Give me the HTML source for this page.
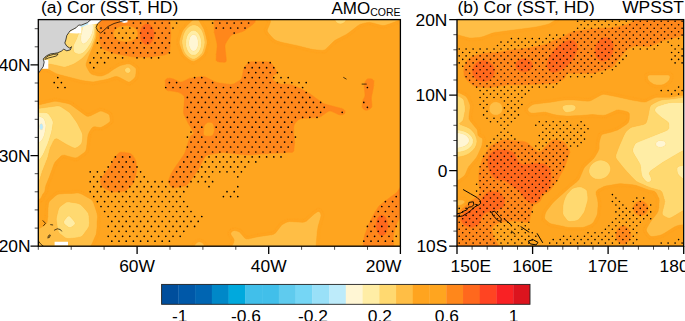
<!DOCTYPE html>
<html><head><meta charset="utf-8"><title>Cor (SST, HD)</title>
<style>
html,body{margin:0;padding:0;background:#fff;}
body{width:685px;height:321px;overflow:hidden;}
svg{display:block;font-family:"Liberation Sans",Arial,Helvetica,sans-serif;fill:#000;}
</style></head><body>
<svg width="685" height="321" viewBox="0 0 685 321">
<defs>
<clipPath id="ca"><rect x="38.3" y="19.6" width="362.1" height="226.6"/></clipPath>
<clipPath id="cb"><rect x="457.0" y="19.6" width="226.7" height="226.5"/></clipPath>
</defs>
<rect width="685" height="321" fill="#fff"/>
<g clip-path="url(#ca)">
<rect x="38" y="19" width="363" height="228" fill="#ffa51f"/>
<path fill="#bdebfa" stroke="#bdebfa" stroke-width=".4" d="M41.5 123.6L42.6 124.5L43.1 126.5L43.1 127.5L42.5 129.2L41.5 129.9L40.5 129.7L39.7 128.5L39.3 126.5L39.5 125.5L39.9 124.5L40.5 123.9Z"/>
<path fill="#fff6d4" stroke="#fff6d4" stroke-width=".4" d="M90.5 22.3L92.4 23.5L92.9 24.5L93.1 25.5L92.9 30.5L92.5 32.6L90.5 37.0L89.5 38.6L87.3 41.5L85.5 43.1L84.5 43.6L83.5 43.9L82.5 43.6L81.5 42.5L81.1 41.5L80.6 38.5L80.8 36.5L82.9 26.5L83.9 24.5L84.9 23.5L86.5 22.4L87.5 22.0L88.5 21.9ZM193.5 34.5L194.5 34.6L195.5 35.1L196.8 36.5L197.7 38.5L198.4 42.5L198.2 45.5L197.6 47.5L196.5 49.6L195.5 50.5L194.5 51.0L193.5 51.2L192.5 51.0L191.5 50.4L190.6 49.5L189.5 47.4L189.0 45.5L188.7 42.5L189.4 38.5L190.4 36.5L191.5 35.2L192.5 34.7ZM36.5 115.9L38.5 116.1L40.5 116.7L42.4 117.5L43.5 118.3L44.4 119.5L44.8 120.5L45.7 123.5L46.0 125.5L45.7 128.5L44.5 134.5L43.8 136.5L42.9 138.5L41.6 140.5L40.5 141.8L39.5 142.3L38.5 142.6L36.5 142.7ZM41.5 123.6L40.5 123.9L39.9 124.5L39.5 125.5L39.3 126.5L39.7 128.5L40.5 129.7L41.5 129.9L42.5 129.2L43.1 127.5L43.1 126.5L42.6 124.5Z"/>
<path fill="#ffeda5" stroke="#ffeda5" stroke-width=".4" d="M86.8 17.5L87.4 18.5L88.5 19.2L91.5 20.2L93.5 21.2L94.5 22.6L94.9 24.5L94.9 26.5L94.4 32.5L93.6 36.5L92.5 39.6L90.5 43.8L87.5 48.3L84.8 51.5L83.5 52.6L82.5 53.2L80.5 53.9L78.5 54.1L76.5 53.7L75.5 53.3L74.5 52.6L73.8 51.5L73.2 48.5L73.2 46.5L73.8 44.5L76.7 38.5L78.6 33.5L79.5 28.5L81.1 17.5ZM90.5 22.3L88.5 21.9L87.5 22.0L86.5 22.4L84.9 23.5L83.9 24.5L82.9 26.5L80.8 36.5L80.6 38.5L81.1 41.5L81.5 42.5L82.5 43.6L83.5 43.9L84.5 43.6L85.5 43.1L87.3 41.5L89.5 38.6L90.5 37.0L92.5 32.6L92.9 30.5L93.1 25.5L92.9 24.5L92.4 23.5ZM193.5 30.3L195.5 30.8L196.5 31.4L197.8 32.5L199.3 34.5L200.3 36.5L200.9 38.5L201.5 42.5L201.4 44.5L200.9 47.5L200.2 49.5L199.2 51.5L197.6 53.5L196.5 54.4L195.5 54.9L193.5 55.3L191.5 54.9L190.5 54.4L189.4 53.5L187.9 51.5L186.9 49.5L186.2 47.5L185.7 44.5L185.6 42.5L186.2 38.5L186.8 36.5L187.8 34.5L189.3 32.5L190.5 31.4L191.5 30.8ZM193.5 34.5L192.5 34.7L191.5 35.2L190.4 36.5L189.4 38.5L188.7 42.5L189.0 45.5L189.5 47.4L190.6 49.5L191.5 50.4L192.5 51.0L193.5 51.2L194.5 51.0L195.5 50.5L196.5 49.6L197.6 47.5L198.2 45.5L198.4 42.5L197.7 38.5L196.8 36.5L195.5 35.1L194.5 34.6ZM46.5 112.7L48.1 113.5L49.1 114.5L51.7 118.5L52.7 120.5L53.0 121.5L53.0 123.5L51.7 131.5L48.4 142.5L43.7 153.5L41.9 156.5L39.5 159.7L38.5 160.6L37.5 161.1L36.5 161.4L36.5 142.7L38.5 142.6L39.5 142.3L40.5 141.8L41.6 140.5L42.9 138.5L43.8 136.5L44.5 134.5L45.7 128.5L46.0 125.5L45.7 123.5L45.1 121.5L44.4 119.5L43.7 118.5L42.5 117.5L40.5 116.7L38.5 116.1L36.5 115.9L36.5 112.5L44.5 112.5ZM68.5 216.0L69.5 216.1L70.5 216.8L73.7 220.5L75.0 222.5L75.2 223.5L74.8 224.5L72.5 226.6L70.5 227.5L69.5 227.5L68.5 227.2L67.5 226.6L64.5 224.2L64.0 223.5L63.6 222.5L63.7 221.5L64.2 220.5L65.5 218.7L67.4 216.5Z"/>
<path fill="#ffd970" stroke="#ffd970" stroke-width=".4" d="M36.5 17.5L81.1 17.5L79.5 28.5L78.6 33.5L76.7 38.5L73.8 44.5L73.2 46.5L73.1 47.5L73.5 50.5L73.8 51.5L74.4 52.5L75.9 53.5L78.5 54.1L80.5 53.9L82.5 53.2L84.5 51.8L86.5 49.5L88.5 46.9L90.5 43.8L92.5 39.6L93.9 35.5L94.5 32.0L94.9 26.5L94.9 24.5L94.5 22.6L93.5 21.2L91.5 20.2L88.5 19.2L87.4 18.5L86.8 17.5L95.5 17.5L96.1 25.5L95.4 35.5L94.5 39.2L91.5 46.5L90.5 48.5L88.5 51.5L86.5 53.9L82.5 58.2L80.9 59.5L74.5 63.7L71.5 65.0L66.5 66.8L65.5 67.0L63.5 67.0L54.5 64.9L49.5 64.1L36.5 64.0ZM334.5 18.5L334.6 17.5L346.2 17.5L346.4 18.5L345.9 20.5L345.4 21.5L344.5 22.4L342.5 23.5L340.5 24.0L338.5 23.7L336.5 22.5L335.1 20.5ZM193.5 24.8L195.5 25.0L197.5 25.7L199.5 27.2L201.5 29.6L202.5 31.5L203.6 34.5L204.6 38.5L205.0 42.5L204.5 46.2L203.6 49.5L202.5 52.5L201.9 53.5L200.1 55.5L197.5 57.6L195.5 58.7L193.5 59.3L191.5 58.8L189.5 57.7L186.7 55.5L185.5 54.1L184.5 52.4L183.3 49.5L182.5 46.5L181.9 42.5L182.0 40.5L182.8 36.5L183.8 33.5L185.3 30.5L187.5 27.8L189.5 26.2L191.5 25.2ZM193.5 30.3L191.5 30.8L190.5 31.4L189.3 32.5L187.8 34.5L186.8 36.5L186.2 38.5L185.6 42.5L185.7 44.5L186.2 47.5L186.9 49.5L187.9 51.5L189.4 53.5L190.5 54.4L191.5 54.9L193.5 55.3L195.5 54.9L196.5 54.4L197.6 53.5L199.2 51.5L200.2 49.5L200.9 47.5L201.4 44.5L201.5 42.5L200.9 38.5L200.3 36.5L199.3 34.5L197.8 32.5L196.5 31.4L195.5 30.8ZM127.5 67.2L128.5 67.3L129.5 67.9L130.1 68.5L130.7 69.5L130.8 70.5L130.5 71.5L129.5 72.6L128.5 73.2L127.5 73.3L126.5 73.0L125.5 72.1L125.0 71.5L124.7 70.5L124.8 69.5L125.4 68.5L126.5 67.6ZM59.5 106.1L62.2 107.5L67.5 111.0L69.5 112.5L71.5 114.9L76.9 122.5L81.5 131.5L82.6 134.5L82.7 136.5L82.5 139.5L81.9 142.5L81.5 143.5L80.8 144.5L78.5 146.5L76.5 147.8L75.5 148.1L74.5 148.1L72.5 147.5L66.6 144.5L57.5 139.1L56.5 138.8L55.5 138.9L54.5 139.6L53.3 141.5L50.4 147.5L49.5 150.4L47.8 157.5L42.3 171.5L39.4 180.5L38.9 181.5L38.2 182.5L37.5 183.0L36.5 183.3L36.5 161.4L37.5 161.1L38.7 160.5L39.7 159.5L41.9 156.5L43.7 153.5L46.5 147.1L48.7 141.5L51.5 132.5L52.8 125.5L53.1 122.5L52.7 120.5L52.3 119.5L49.5 115.1L48.1 113.5L46.5 112.7L45.5 112.6L36.5 112.5L36.5 108.5L39.5 108.3L56.5 105.9L58.5 105.9ZM66.5 202.1L67.5 201.9L69.5 201.9L77.5 203.2L79.5 203.9L80.5 204.5L82.7 206.5L87.5 211.9L88.5 213.5L88.9 215.5L89.5 222.5L89.4 224.5L89.0 226.5L87.9 228.5L83.5 234.6L82.5 235.7L81.5 236.5L80.5 237.0L78.5 237.4L71.5 238.4L67.5 238.6L65.5 237.9L61.5 235.0L59.5 233.4L58.2 231.5L57.5 228.5L56.2 219.5L56.4 217.5L58.1 210.5L58.8 208.5L59.3 207.5L60.2 206.5L64.5 203.2ZM68.5 216.0L67.4 216.5L65.5 218.7L64.2 220.5L63.7 221.5L63.6 222.5L64.0 223.5L64.5 224.2L67.5 226.6L68.5 227.2L69.5 227.5L70.5 227.5L72.5 226.6L74.8 224.5L75.2 223.5L75.0 222.5L73.7 220.5L70.5 216.8L69.5 216.1Z"/>
<path fill="#ffbe45" stroke="#ffbe45" stroke-width=".4" d="M135.7 75.5L135.0 77.5L134.2 78.5L130.5 81.6L129.5 82.0L128.5 82.1L127.5 81.8L120.5 78.0L118.5 77.1L116.5 76.6L114.5 76.8L109.5 78.6L106.2 79.5L95.5 81.6L92.5 81.9L88.5 81.5L81.8 80.5L58.7 74.5L55.6 73.5L49.5 70.1L47.5 69.4L45.5 69.1L36.5 69.1L36.5 64.0L49.5 64.1L54.5 64.9L62.5 66.9L64.5 67.1L65.5 67.0L69.5 65.8L74.5 63.7L80.9 59.5L82.5 58.2L86.5 53.9L89.5 50.1L91.5 46.5L94.5 39.2L95.4 35.5L96.1 25.5L95.5 17.5L96.9 17.5L97.1 25.5L96.6 35.5L96.3 37.5L95.8 39.5L92.7 47.5L89.9 53.5L87.2 60.5L86.2 63.5L86.1 64.5L86.2 65.5L86.9 67.5L89.8 72.5L91.5 74.0L93.5 74.8L98.5 76.0L100.5 76.1L101.5 76.0L104.5 75.0L108.5 73.1L113.3 69.5L119.5 65.9L120.5 65.4L124.0 64.5L127.5 63.8L128.5 63.8L130.5 64.3L134.5 66.9L135.3 67.5L136.0 68.5L136.2 69.5ZM127.5 67.2L126.5 67.6L125.4 68.5L124.8 69.5L124.7 70.5L125.0 71.5L125.5 72.1L126.5 73.0L127.5 73.3L128.5 73.2L129.5 72.6L130.5 71.5L130.8 70.5L130.7 69.5L130.1 68.5L129.5 67.9L128.5 67.3ZM196.5 18.2L197.5 18.6L198.5 19.8L203.7 28.5L204.7 31.5L205.9 35.5L207.0 40.5L207.1 42.5L206.9 44.5L205.3 50.5L204.6 52.5L203.5 54.5L201.5 56.5L198.5 59.0L195.5 60.8L193.5 61.4L192.5 61.3L191.5 61.0L188.5 59.2L185.2 56.5L183.5 54.6L182.4 52.5L180.2 46.5L179.3 43.5L179.2 41.5L180.2 37.5L181.5 33.5L182.3 31.5L183.5 29.5L185.9 26.5L192.5 20.1L195.0 18.5ZM193.5 24.8L191.5 25.2L189.5 26.2L187.5 27.8L185.3 30.5L183.8 33.5L182.8 36.5L182.0 40.5L181.9 42.5L182.5 46.5L183.3 49.5L184.5 52.4L185.5 54.1L186.7 55.5L189.5 57.7L191.5 58.8L193.5 59.3L195.5 58.7L197.5 57.6L200.1 55.5L201.9 53.5L202.5 52.5L203.6 49.5L204.5 46.2L205.0 42.5L204.6 38.5L203.6 34.5L202.5 31.5L201.5 29.6L199.5 27.2L197.5 25.7L195.5 25.0ZM267.2 30.5L267.5 29.2L270.0 23.5L270.5 21.5L270.4 20.5L270.0 19.5L268.0 17.5L334.6 17.5L334.5 18.5L334.7 19.5L335.5 21.2L336.5 22.5L338.5 23.7L340.5 24.0L341.5 23.9L343.5 23.1L344.5 22.4L345.4 21.5L346.2 19.5L346.4 18.5L346.2 17.5L401.8 17.5L401.3 18.5L400.5 19.3L398.5 20.6L390.8 23.5L384.5 25.6L381.8 25.5L372.5 22.9L369.5 22.4L368.5 22.4L365.5 22.9L360.5 24.3L357.5 26.0L349.2 32.5L346.3 34.5L337.5 39.0L334.5 40.8L325.5 49.4L324.5 50.0L323.5 50.3L322.5 50.4L317.5 50.0L312.5 49.5L298.5 45.9L282.3 42.5L278.6 41.5L275.5 40.3L273.5 38.8L268.5 33.3L267.4 31.5ZM108.5 114.0L109.6 115.5L110.2 119.5L110.2 120.5L110.0 121.5L109.2 122.5L106.3 124.5L101.5 127.3L100.5 127.5L99.5 127.6L95.5 126.8L93.5 126.9L92.5 127.5L90.8 129.5L89.1 132.5L88.3 134.5L87.7 137.5L86.5 148.5L85.9 150.5L85.4 151.5L84.4 152.5L77.5 157.4L76.5 157.8L75.5 158.0L73.5 157.7L64.5 155.2L62.5 155.4L61.5 155.8L60.5 156.6L55.7 161.5L54.9 162.5L53.9 164.5L49.5 176.5L45.9 185.5L45.4 187.5L45.0 190.5L44.5 192.1L42.6 194.5L41.3 197.5L40.5 198.7L39.5 199.3L38.8 199.5L36.5 199.6L36.5 183.3L37.5 183.0L38.2 182.5L38.9 181.5L39.4 180.5L42.3 171.5L47.8 157.5L49.5 150.4L50.4 147.5L53.3 141.5L54.5 139.6L55.5 138.9L56.5 138.8L57.5 139.1L65.5 143.9L69.5 146.0L73.5 147.9L74.5 148.1L75.5 148.1L76.5 147.8L78.5 146.5L80.5 144.9L81.5 143.5L81.9 142.5L82.4 140.5L82.7 135.5L82.4 133.5L81.0 130.5L77.5 123.5L74.8 119.5L71.2 114.5L69.5 112.5L63.5 108.3L60.5 106.5L59.5 106.1L57.5 105.8L39.5 108.3L36.5 108.5L36.5 104.9L40.5 104.4L53.5 101.3L56.5 101.2L67.5 103.4L70.5 104.4L73.5 106.5L84.5 114.7L86.5 115.9L87.5 116.2L88.5 116.3L90.5 115.7L99.1 111.5L100.5 111.1L101.5 111.1L103.1 111.5L107.5 113.4ZM92.4 200.5L93.5 202.6L96.5 211.5L97.5 215.4L97.6 217.5L97.1 221.5L97.0 227.5L96.4 233.5L95.5 236.0L91.5 244.9L90.2 246.5L88.4 247.5L85.5 248.5L36.5 248.5L36.5 228.9L39.5 228.3L41.5 227.2L45.3 224.5L46.3 223.5L46.9 222.5L47.2 221.5L47.8 216.5L47.9 209.5L48.5 203.5L48.8 202.5L49.5 201.3L54.6 196.5L57.4 194.5L59.5 194.0L65.5 193.4L71.5 193.4L76.5 193.0L78.5 193.1L80.3 193.5L82.5 194.5L91.3 199.5ZM66.5 202.1L64.5 203.2L60.2 206.5L59.3 207.5L58.8 208.5L58.1 210.5L56.4 217.5L56.2 219.5L57.5 228.5L58.2 231.5L59.5 233.4L61.5 235.0L65.5 237.9L67.5 238.6L71.5 238.4L78.5 237.4L80.5 237.0L81.5 236.5L82.5 235.7L83.5 234.6L87.9 228.5L89.0 226.5L89.4 224.5L89.5 222.5L88.9 215.5L88.5 213.5L87.5 211.9L82.7 206.5L80.5 204.5L79.5 203.9L77.5 203.2L69.5 201.9L67.5 201.9ZM320.7 213.5L321.0 215.5L321.0 216.5L318.1 226.5L317.3 231.5L315.9 248.5L230.8 248.5L233.7 242.5L234.1 240.5L234.0 239.5L233.5 238.5L231.4 235.5L230.9 234.5L230.7 233.5L231.0 232.5L231.5 231.9L232.5 231.1L233.5 230.7L234.5 230.5L235.5 230.6L238.4 231.5L239.5 232.1L240.5 233.0L244.5 237.8L245.5 238.5L246.5 238.8L248.5 238.8L259.5 236.4L271.5 234.8L273.5 234.2L275.5 232.9L281.5 225.3L283.5 223.8L286.5 222.3L288.5 221.6L289.5 221.5L302.5 222.3L304.5 222.0L306.5 220.9L313.6 214.5L317.5 211.7L318.5 211.4L319.5 211.8ZM193.8 248.5L194.5 245.5L195.5 243.7L197.5 242.2L198.5 241.8L199.5 241.7L200.5 241.9L201.9 242.5L203.5 243.8L204.3 245.5L204.9 248.5Z"/>
<path fill="#ffa41f" stroke="#ffa41f" stroke-width=".4" d="M139.2 69.5L138.8 74.5L138.2 77.5L137.8 78.5L136.5 80.3L133.5 83.0L131.5 84.4L130.5 84.9L129.5 85.2L127.5 85.0L119.2 80.5L116.5 79.5L115.5 79.6L107.5 82.2L94.5 84.7L92.5 84.8L84.5 83.9L79.5 82.9L67.0 79.5L56.5 76.9L54.5 76.2L47.5 72.4L44.5 72.0L36.5 72.0L36.5 69.1L46.5 69.2L49.5 70.1L55.5 73.4L58.7 74.5L81.8 80.5L91.5 81.8L93.5 81.9L95.5 81.6L106.2 79.5L109.5 78.6L113.5 77.1L115.5 76.6L116.5 76.6L118.5 77.1L122.5 79.0L127.0 81.5L128.5 82.1L129.5 82.0L130.5 81.6L133.1 79.5L134.5 78.2L135.5 76.4L136.0 73.5L136.2 69.5L136.0 68.5L135.3 67.5L132.5 65.5L130.5 64.3L129.5 64.0L128.5 63.8L126.5 64.0L120.3 65.5L118.2 66.5L113.3 69.5L108.5 73.1L104.5 75.0L101.5 76.0L99.5 76.1L97.5 75.8L93.5 74.8L91.5 74.0L89.8 72.5L88.0 69.5L86.5 66.5L86.2 65.5L86.2 63.5L87.2 60.5L89.1 55.5L92.7 47.5L95.8 39.5L96.3 37.5L96.6 35.5L97.1 25.5L96.9 17.5L98.1 17.5L98.1 25.5L97.7 35.5L97.4 38.5L96.9 41.5L95.1 47.5L92.5 53.9L89.5 62.4L89.1 64.5L89.5 66.3L92.0 70.5L92.5 71.1L93.5 71.7L95.9 72.5L99.5 73.1L101.5 72.9L103.0 72.5L107.3 70.5L110.5 67.9L116.5 64.2L118.5 63.1L122.5 61.9L126.5 61.0L128.5 60.9L129.5 61.0L131.5 61.7L136.5 64.7L138.4 66.5L138.9 67.5ZM200.4 17.5L205.1 25.5L206.1 27.5L206.8 29.5L209.3 39.5L209.6 42.5L209.4 44.5L206.8 53.5L205.7 55.5L204.9 56.5L200.5 60.2L196.5 63.0L194.5 64.0L192.5 64.1L190.5 63.3L185.5 59.8L182.8 57.5L181.1 55.5L180.2 53.5L176.8 44.5L176.5 42.5L176.6 40.5L179.1 32.5L179.9 30.5L181.1 28.5L183.6 25.5L190.1 18.5L191.2 17.5ZM196.5 18.2L195.0 18.5L192.5 20.1L185.9 26.5L183.5 29.5L182.3 31.5L181.5 33.5L180.2 37.5L179.2 41.5L179.3 43.5L180.2 46.5L182.4 52.5L183.5 54.6L185.2 56.5L188.5 59.2L191.5 61.0L192.5 61.3L193.5 61.4L195.5 60.8L198.5 59.0L201.5 56.5L203.5 54.5L204.6 52.5L205.3 50.5L206.9 44.5L207.1 42.5L207.0 40.5L205.9 35.5L204.7 31.5L203.7 28.5L198.5 19.8L197.5 18.6ZM262.6 17.5L268.0 17.5L270.0 19.5L270.4 20.5L270.5 21.5L270.3 22.5L267.4 29.5L267.2 30.5L267.4 31.5L268.7 33.5L273.2 38.5L274.3 39.5L275.5 40.3L278.6 41.5L282.3 42.5L298.5 45.9L311.5 49.3L316.5 49.9L322.5 50.4L323.5 50.3L324.5 50.0L325.5 49.4L333.5 41.6L335.5 40.1L346.3 34.5L349.2 32.5L357.5 26.0L359.5 24.7L361.5 23.9L366.5 22.7L369.5 22.4L372.5 22.9L381.8 25.5L384.5 25.6L390.8 23.5L398.5 20.6L400.5 19.3L401.3 18.5L401.8 17.5L402.5 17.5L402.5 21.4L400.5 22.8L397.5 24.1L386.5 28.1L383.5 28.6L380.5 28.2L370.9 25.5L369.5 25.3L367.0 25.5L362.5 26.6L360.5 27.4L358.9 28.5L350.5 35.1L347.5 37.1L338.8 41.5L335.6 43.5L326.5 52.2L324.5 53.2L322.5 53.3L316.5 52.9L310.5 52.0L296.9 48.5L280.5 45.0L274.5 43.1L272.5 41.8L271.1 40.5L265.8 34.5L264.6 32.5L264.2 31.5L264.1 30.5L264.3 29.5L265.0 27.5L266.5 24.4L267.2 22.5L267.3 21.5L266.7 20.5L264.5 19.1ZM110.5 111.8L111.9 113.5L112.8 116.5L113.2 119.5L113.2 121.5L112.9 122.5L112.3 123.5L111.4 124.5L109.5 125.9L104.5 129.0L102.5 130.1L101.5 130.3L99.5 130.4L95.5 129.8L94.5 130.0L93.5 130.7L91.5 134.1L90.8 136.5L89.2 149.5L88.7 151.5L88.2 152.5L87.5 153.5L84.5 156.0L78.5 160.2L76.5 160.9L75.5 161.0L73.5 160.7L66.1 158.5L64.5 158.2L63.5 158.3L62.5 158.7L59.5 161.5L57.5 163.8L56.5 165.8L52.9 175.5L48.5 186.8L48.2 188.5L47.9 191.5L47.3 193.5L45.5 195.5L44.8 196.5L43.6 199.5L42.5 201.1L41.5 201.8L40.5 202.2L36.5 202.4L36.5 199.6L38.8 199.5L39.5 199.3L40.5 198.7L41.3 197.5L42.6 194.5L44.2 192.5L44.8 191.5L45.4 187.5L45.9 185.5L49.5 176.5L53.9 164.5L54.9 162.5L56.5 160.5L60.5 156.6L61.5 155.8L62.5 155.4L64.5 155.2L73.5 157.7L75.5 158.0L76.5 157.8L77.5 157.4L84.4 152.5L85.4 151.5L85.9 150.5L86.5 148.3L88.0 135.5L89.1 132.5L91.5 128.5L92.5 127.5L93.5 126.9L94.5 126.8L99.5 127.6L100.5 127.5L101.5 127.3L106.3 124.5L109.2 122.5L110.0 121.5L110.2 120.5L109.8 116.5L109.6 115.5L109.0 114.5L107.5 113.4L102.5 111.3L100.5 111.1L99.5 111.3L90.5 115.7L88.5 116.3L87.5 116.2L86.5 115.9L84.5 114.7L70.5 104.4L68.0 103.5L56.5 101.2L54.5 101.2L40.5 104.4L36.5 104.9L36.5 102.0L40.5 101.5L52.5 98.6L54.5 98.3L56.5 98.3L68.5 100.7L71.5 101.7L73.5 102.9L86.3 112.5L87.5 113.1L88.5 113.2L90.5 112.6L97.5 109.0L100.5 108.1L102.5 108.3L104.5 108.9L108.5 110.6ZM55.5 192.2L56.5 191.7L58.5 191.1L63.5 190.7L72.3 190.5L76.5 190.0L79.5 190.3L81.5 190.9L83.5 191.8L92.5 196.8L94.5 198.5L95.2 199.5L96.9 203.5L99.8 212.5L100.3 214.5L100.4 217.5L100.1 221.5L99.9 227.5L99.3 233.5L98.8 235.5L93.9 246.5L92.3 248.5L85.5 248.5L89.5 246.9L90.5 246.2L91.1 245.5L92.5 242.8L96.1 234.5L96.5 232.5L97.0 227.5L97.1 221.5L97.6 217.5L97.3 214.5L96.5 211.5L93.5 202.6L92.4 200.5L91.3 199.5L82.5 194.5L80.3 193.5L78.5 193.1L76.5 193.0L71.5 193.4L64.5 193.5L58.5 194.1L57.4 194.5L55.5 195.8L50.2 200.5L49.3 201.5L48.8 202.5L48.5 203.5L48.0 208.5L47.8 216.5L47.2 221.5L46.9 222.5L46.3 223.5L45.3 224.5L41.5 227.2L39.5 228.3L36.5 228.9L36.5 225.9L38.5 225.6L40.5 224.5L43.5 222.1L44.4 220.5L44.9 215.5L45.1 208.5L46.0 201.5L47.5 199.2L53.5 193.7ZM323.7 213.5L324.0 214.5L324.0 216.5L321.5 224.9L320.5 229.0L319.5 238.7L318.8 248.5L315.9 248.5L317.2 232.5L318.1 226.5L320.7 217.5L321.0 215.5L320.7 213.5L320.1 212.5L319.5 211.8L318.5 211.4L317.5 211.7L314.8 213.5L306.5 220.9L304.5 222.0L302.5 222.3L289.5 221.5L287.5 221.9L286.0 222.5L282.5 224.4L281.5 225.3L275.5 232.9L273.5 234.2L271.5 234.8L259.5 236.4L248.5 238.8L246.5 238.8L245.5 238.5L244.5 237.8L240.5 233.0L239.5 232.1L238.4 231.5L235.5 230.6L234.5 230.5L233.5 230.7L232.5 231.1L231.5 231.9L231.0 232.5L230.7 233.5L230.9 234.5L231.4 235.5L232.9 237.5L234.0 239.5L234.1 240.5L233.7 242.5L230.8 248.5L227.6 248.5L230.5 242.6L231.0 240.5L230.5 239.1L228.0 235.5L227.6 234.5L227.6 232.5L228.0 231.5L229.5 229.8L230.5 228.9L232.5 227.8L233.5 227.6L235.5 227.7L239.5 228.8L241.5 229.9L242.1 230.5L245.5 234.7L246.4 235.5L247.5 235.8L249.5 235.6L257.5 233.8L267.2 232.5L272.5 231.5L273.5 230.8L274.5 229.7L279.3 223.5L280.5 222.4L282.5 221.0L284.5 220.0L287.5 218.9L290.5 218.6L294.5 219.0L298.5 219.0L302.5 219.4L303.5 219.2L304.9 218.5L313.5 210.9L316.5 208.8L317.5 208.3L318.5 208.0L319.5 208.1L320.5 208.5L321.5 209.3L322.9 211.5ZM190.8 248.5L192.1 243.5L193.5 241.5L195.5 240.0L197.5 239.0L199.5 238.7L201.5 239.1L203.5 240.1L205.5 241.6L206.2 242.5L207.1 244.5L207.8 248.5L204.9 248.5L204.3 245.5L203.5 243.8L201.9 242.5L200.5 241.9L199.5 241.7L198.5 241.8L197.5 242.2L195.5 243.7L194.5 245.5L193.8 248.5Z"/>
<path fill="#ffa51f" stroke="#ffa51f" stroke-width=".4" d="M36.5 72.0L44.5 72.0L47.5 72.4L54.5 76.2L57.5 77.2L67.0 79.5L80.5 83.2L84.5 83.9L92.5 84.8L94.5 84.7L107.5 82.2L115.5 79.6L116.5 79.5L119.2 80.5L127.5 85.0L129.5 85.2L130.5 84.9L132.5 83.8L135.5 81.2L137.2 79.5L138.2 77.5L138.9 73.5L139.2 68.5L138.9 67.5L138.4 66.5L137.4 65.5L133.5 62.8L130.5 61.3L128.5 60.9L126.5 61.0L121.5 62.1L118.5 63.1L116.5 64.2L110.5 67.9L107.3 70.5L103.0 72.5L100.5 73.1L99.5 73.1L95.9 72.5L93.5 71.7L92.5 71.1L92.0 70.5L90.5 68.2L89.5 66.3L89.2 65.5L89.1 64.5L89.5 62.5L92.5 53.9L95.1 47.5L96.9 41.5L97.4 38.5L97.7 35.5L98.1 25.5L98.1 17.5L99.5 17.5L99.2 38.5L99.4 40.5L101.1 46.5L101.6 47.5L102.4 48.5L104.0 49.5L114.6 53.5L117.5 54.3L134.5 57.1L148.5 57.2L151.5 57.0L164.5 54.9L166.5 54.2L167.7 53.5L168.7 52.5L169.3 51.5L169.6 50.5L170.1 46.5L170.2 41.5L170.7 37.5L170.7 33.5L170.2 28.5L170.1 22.5L169.6 17.5L191.2 17.5L189.1 19.5L183.6 25.5L181.1 28.5L179.9 30.5L176.8 39.5L176.5 42.5L176.8 44.5L180.2 53.5L181.1 55.5L181.8 56.5L184.5 59.0L188.5 62.0L191.5 63.8L192.5 64.1L193.5 64.2L194.5 64.0L196.5 63.0L199.5 61.0L203.5 57.8L205.7 55.5L206.3 54.5L207.1 52.5L209.4 44.5L209.6 42.5L209.3 39.5L206.8 29.5L206.1 27.5L205.1 25.5L200.4 17.5L214.3 17.5L214.3 29.5L214.4 32.5L216.8 42.5L217.2 45.5L216.4 54.5L216.2 59.5L216.5 60.7L217.5 61.5L219.5 62.0L224.5 62.3L225.5 61.9L225.9 61.5L226.2 60.5L226.1 57.5L225.0 46.5L225.2 44.5L226.1 42.5L229.2 37.5L230.5 36.0L232.5 34.7L241.5 31.9L244.5 30.5L253.5 23.8L254.6 22.5L255.4 20.5L255.8 17.5L262.6 17.5L264.5 19.1L266.7 20.5L267.3 21.5L267.2 22.5L264.3 29.5L264.1 30.5L264.2 31.5L265.1 33.5L266.6 35.5L271.5 40.9L272.5 41.8L274.5 43.1L280.5 45.0L296.9 48.5L310.5 52.0L316.5 52.9L322.5 53.3L324.5 53.2L326.5 52.2L335.6 43.5L338.8 41.5L347.5 37.1L350.5 35.1L358.9 28.5L360.5 27.4L362.5 26.6L367.0 25.5L369.5 25.3L370.9 25.5L380.5 28.2L383.5 28.6L386.5 28.1L397.5 24.1L400.5 22.8L402.5 21.4L402.5 185.3L401.5 185.8L400.8 186.5L397.5 191.5L396.5 192.7L384.5 201.5L379.5 205.5L378.5 206.7L375.4 211.5L373.1 215.5L368.5 224.7L364.6 235.5L364.1 237.5L363.4 242.5L363.1 248.5L318.8 248.5L319.5 238.7L320.5 229.0L321.5 224.9L323.7 217.5L324.0 215.5L324.0 214.5L322.9 211.5L321.7 209.5L320.5 208.5L319.5 208.1L318.5 208.0L316.5 208.8L312.5 211.7L308.4 215.5L304.9 218.5L303.5 219.2L302.5 219.4L298.5 219.0L289.5 218.6L287.5 218.9L284.5 220.0L282.5 221.0L280.4 222.5L279.3 223.5L273.8 230.5L272.5 231.5L271.5 231.8L261.5 233.2L257.5 233.8L250.4 235.5L247.5 235.8L246.5 235.6L245.5 234.7L242.5 230.9L240.5 229.3L237.5 228.1L235.5 227.7L233.5 227.6L232.5 227.8L230.5 228.9L229.5 229.8L228.0 231.5L227.6 232.5L227.6 234.5L228.0 235.5L230.5 239.1L231.0 240.5L230.5 242.6L227.6 248.5L207.8 248.5L207.1 244.5L206.2 242.5L205.5 241.6L203.5 240.1L201.5 239.1L199.5 238.7L197.5 239.0L195.5 240.0L193.5 241.5L192.1 243.5L190.8 248.5L92.3 248.5L93.9 246.5L98.0 237.5L99.1 234.5L99.9 227.5L100.1 221.5L100.4 217.5L100.4 215.5L100.1 213.5L96.2 201.5L95.2 199.5L93.5 197.6L92.5 196.8L83.5 191.8L81.5 190.9L78.5 190.1L75.5 190.1L71.5 190.5L64.5 190.6L58.5 191.1L56.5 191.7L55.5 192.2L53.5 193.7L47.2 199.5L46.0 201.5L45.1 208.5L44.9 215.5L44.4 220.5L44.0 221.5L43.2 222.5L40.5 224.5L38.5 225.6L36.5 225.9L36.5 202.4L40.5 202.2L41.5 201.8L42.5 201.1L43.6 199.5L44.8 196.5L45.5 195.5L47.3 193.5L47.9 191.5L48.2 188.5L48.5 186.8L51.8 178.5L56.5 165.8L57.5 163.8L58.5 162.5L61.5 159.5L62.5 158.7L63.5 158.3L64.5 158.2L66.1 158.5L74.5 160.9L76.5 160.9L78.5 160.2L86.5 154.5L88.2 152.5L89.0 150.5L90.6 137.5L91.4 134.5L92.5 132.2L93.5 130.7L94.5 130.0L95.5 129.8L99.5 130.4L101.5 130.3L102.5 130.1L107.5 127.2L111.5 124.4L112.3 123.5L112.9 122.5L113.2 121.5L113.0 117.5L112.3 114.5L111.9 113.5L111.2 112.5L109.5 111.1L104.5 108.9L101.5 108.1L99.5 108.3L97.5 109.0L89.5 112.9L88.5 113.2L87.5 113.1L86.3 112.5L73.5 102.9L71.5 101.7L68.5 100.7L56.5 98.3L54.5 98.3L52.5 98.6L40.5 101.5L36.5 102.0ZM344.6 110.5L343.5 109.3L341.7 108.5L326.5 104.5L323.5 103.5L321.5 102.2L310.5 94.2L302.3 89.5L297.5 87.2L292.5 85.2L289.5 84.4L286.5 84.1L283.5 84.3L281.5 84.2L279.5 83.6L274.5 81.4L273.3 80.5L272.8 79.5L272.5 78.5L272.6 76.5L273.0 75.5L273.5 75.0L275.5 74.3L276.8 73.5L277.0 72.5L276.8 71.5L273.8 66.5L271.7 63.5L270.5 62.4L269.5 62.0L266.5 61.8L251.5 61.8L249.5 62.1L248.5 62.6L247.5 63.5L245.5 65.8L244.5 67.2L243.9 68.5L243.3 70.5L242.3 76.5L241.5 78.7L240.9 79.5L239.5 80.6L234.5 83.5L232.5 84.3L230.5 84.5L228.5 84.3L217.5 82.7L214.5 81.6L205.5 77.1L203.5 76.6L198.5 77.0L189.5 78.4L187.5 79.2L183.5 81.4L181.5 82.1L179.5 81.9L173.5 79.1L171.5 78.5L169.5 78.3L167.3 78.5L166.5 78.9L165.9 79.5L165.4 80.5L165.3 81.5L165.4 87.5L165.5 88.5L166.1 89.5L167.5 90.4L168.5 90.6L176.5 91.8L179.5 92.6L180.5 93.1L182.5 94.6L183.5 95.5L184.2 96.5L184.5 98.5L183.5 111.5L183.6 113.5L184.4 115.5L188.5 123.8L193.1 131.5L193.5 132.5L193.7 133.5L193.0 134.5L191.5 135.2L190.2 136.5L189.5 138.4L185.7 150.5L185.0 152.5L184.0 154.5L173.5 169.8L171.3 173.5L169.5 177.8L168.5 180.5L168.5 181.9L169.0 183.5L170.5 185.9L171.5 187.1L172.5 187.6L173.5 187.8L175.5 187.6L183.5 186.3L185.5 185.7L186.5 185.2L188.5 183.2L197.5 171.0L204.5 157.5L205.5 156.2L206.5 155.4L207.5 155.0L216.5 153.3L222.5 152.4L224.5 152.5L246.5 155.1L272.5 153.2L284.5 152.7L288.5 152.3L291.5 152.4L292.5 152.2L293.4 151.5L293.8 150.5L294.6 142.5L293.7 133.5L293.7 127.5L294.0 125.5L294.3 124.5L295.5 122.8L297.5 120.5L298.5 119.7L300.5 118.8L303.5 118.4L315.5 117.6L319.5 117.0L321.5 116.1L327.5 111.8L328.5 111.3L329.5 111.0L331.5 111.3L338.5 114.5L340.5 114.9L342.5 114.7L343.5 114.3L344.7 113.5L345.0 112.5L345.0 111.5ZM370.5 78.8L368.5 78.8L367.5 79.0L366.7 79.5L365.3 81.5L364.2 84.5L364.1 86.5L364.9 93.5L365.0 95.5L364.8 96.5L363.3 99.5L362.6 101.5L362.2 104.5L362.1 106.5L362.4 107.5L363.0 108.5L364.5 109.7L365.5 110.1L366.5 110.2L367.5 110.0L369.5 109.1L370.5 108.5L371.4 107.5L371.8 106.5L371.8 104.5L371.4 99.5L371.4 97.5L373.2 88.5L373.6 85.5L373.8 81.5L373.6 80.5L372.7 79.5L371.5 79.0ZM130.5 153.6L128.5 153.0L124.5 152.4L121.5 152.2L120.5 152.3L119.5 152.6L118.5 153.3L115.3 156.5L113.9 158.5L110.7 165.5L107.9 169.5L101.7 177.5L100.6 179.5L100.4 181.5L101.1 184.5L102.0 186.5L103.0 187.5L109.5 190.9L112.5 192.0L114.5 192.0L121.5 191.6L124.5 191.1L126.5 190.1L128.3 188.5L132.2 184.5L133.5 182.4L135.7 175.5L136.6 171.5L136.7 168.5L136.1 162.5L135.7 160.5L134.6 158.5L132.6 155.5L131.5 154.3ZM113.3 32.5L113.6 31.5L114.5 30.1L116.0 28.5L117.5 27.5L119.7 26.5L122.5 25.7L124.5 25.5L127.5 25.5L131.7 26.5L133.5 27.3L135.5 28.6L136.5 29.5L137.5 31.1L137.9 32.5L137.9 34.5L137.5 36.5L137.0 37.5L136.1 38.5L134.5 39.6L132.5 40.7L129.5 41.7L127.5 42.0L124.5 42.0L122.5 41.8L119.5 40.9L117.5 40.0L115.5 38.7L114.4 37.5L113.4 35.5L113.1 33.5ZM208.5 122.2L210.5 122.3L211.5 122.5L212.5 123.1L213.5 124.5L214.4 128.5L214.5 130.5L214.3 131.5L213.2 134.5L212.5 135.4L211.5 136.0L209.5 136.3L205.5 136.2L204.1 135.5L203.5 134.5L203.3 133.5L204.0 126.5L204.5 125.4L206.1 123.5L207.5 122.5ZM402.5 213.2L402.5 248.5L393.9 248.5L393.3 237.5L393.4 235.5L394.1 232.5L396.3 224.5L398.2 220.5L401.0 215.5Z"/>
<path fill="#ff871b" stroke="#ff871b" stroke-width=".4" d="M99.5 17.5L169.6 17.5L170.1 22.5L170.2 28.5L170.7 32.5L170.7 35.5L170.2 41.5L170.1 46.5L169.6 50.5L169.3 51.5L168.5 52.8L167.5 53.6L166.5 54.2L164.5 54.9L161.2 55.5L150.5 57.1L136.5 57.2L132.5 56.8L116.5 54.1L112.5 52.7L104.0 49.5L102.5 48.6L101.5 47.3L100.5 44.7L99.4 40.5L99.2 38.5ZM113.3 32.5L113.1 33.5L113.4 35.5L114.4 37.5L115.5 38.7L117.5 40.0L119.5 40.9L122.5 41.8L124.5 42.0L127.5 42.0L129.5 41.7L132.5 40.7L134.5 39.6L136.1 38.5L137.0 37.5L137.5 36.5L137.9 34.5L137.9 32.5L137.5 31.1L136.5 29.5L135.5 28.6L133.5 27.3L131.7 26.5L127.5 25.5L124.5 25.5L122.5 25.7L119.7 26.5L117.5 27.5L116.0 28.5L114.5 30.1L113.6 31.5ZM146.5 23.9L145.5 24.1L143.5 25.3L142.3 26.5L141.1 28.5L140.6 31.5L140.5 37.5L140.9 39.5L141.3 40.5L142.8 42.5L144.5 43.9L145.5 44.4L147.5 44.6L149.5 43.9L150.5 43.2L151.5 42.1L152.6 40.5L153.7 37.5L153.9 35.5L153.9 32.5L153.3 29.5L152.3 27.5L151.5 26.4L150.5 25.3L149.3 24.5L147.5 23.9ZM255.8 17.5L255.4 20.5L254.5 22.7L252.7 24.5L244.5 30.5L242.5 31.5L232.5 34.7L231.1 35.5L230.0 36.5L226.1 42.5L225.2 44.5L225.0 45.5L225.0 47.5L226.3 59.5L226.2 60.5L225.9 61.5L225.5 61.9L224.5 62.3L219.5 62.0L217.4 61.5L216.4 60.5L216.2 59.5L216.4 54.5L217.2 45.5L216.8 42.5L214.4 32.5L214.3 29.5L214.3 17.5ZM344.6 110.5L345.0 111.5L345.0 112.5L344.7 113.5L343.5 114.3L342.5 114.7L340.5 114.9L338.5 114.5L331.5 111.3L329.5 111.0L328.5 111.3L327.5 111.8L321.5 116.1L319.5 117.0L315.5 117.6L303.5 118.4L300.5 118.8L298.5 119.7L297.5 120.5L295.5 122.8L294.3 124.5L294.0 125.5L293.7 127.5L293.7 133.5L294.6 142.5L293.8 150.5L293.4 151.5L292.5 152.2L291.5 152.4L288.5 152.3L284.5 152.7L272.5 153.2L246.5 155.1L224.5 152.5L222.5 152.4L216.5 153.3L207.5 155.0L206.5 155.4L205.5 156.2L204.5 157.5L197.5 171.0L188.5 183.2L186.5 185.2L185.5 185.7L183.5 186.3L175.5 187.6L173.5 187.8L172.5 187.6L171.5 187.1L170.5 185.9L169.0 183.5L168.5 181.9L168.5 180.5L169.5 177.8L171.3 173.5L173.5 169.8L184.0 154.5L185.0 152.5L185.7 150.5L189.5 138.4L190.2 136.5L191.5 135.2L193.0 134.5L193.7 133.5L193.5 132.5L193.1 131.5L188.5 123.8L184.4 115.5L183.6 113.5L183.5 111.5L184.5 98.5L184.2 96.5L183.5 95.5L182.5 94.6L180.5 93.1L179.5 92.6L176.5 91.8L168.5 90.6L167.5 90.4L166.1 89.5L165.5 88.5L165.4 87.5L165.3 81.5L165.4 80.5L165.9 79.5L166.5 78.9L167.3 78.5L169.5 78.3L171.5 78.5L173.5 79.1L179.5 81.9L181.5 82.1L183.5 81.4L187.5 79.2L189.5 78.4L198.5 77.0L203.5 76.6L205.5 77.1L214.5 81.6L217.5 82.7L228.5 84.3L230.5 84.5L232.5 84.3L234.5 83.5L239.5 80.6L240.9 79.5L241.5 78.7L242.3 76.5L243.3 70.5L243.9 68.5L244.5 67.2L245.5 65.8L247.5 63.5L248.5 62.6L249.5 62.1L251.5 61.8L266.5 61.8L269.5 62.0L270.5 62.4L271.7 63.5L273.8 66.5L276.8 71.5L277.0 72.5L276.8 73.5L275.5 74.3L273.5 75.0L273.0 75.5L272.6 76.5L272.5 78.5L272.8 79.5L273.3 80.5L274.5 81.4L279.5 83.6L281.5 84.2L283.5 84.3L286.5 84.1L289.5 84.4L292.5 85.2L297.5 87.2L302.3 89.5L310.5 94.2L321.5 102.2L323.5 103.5L326.5 104.5L341.7 108.5L343.5 109.3ZM211.5 122.5L209.5 122.2L208.5 122.2L207.5 122.5L206.1 123.5L204.4 125.5L203.8 127.5L203.3 133.5L203.5 134.6L204.5 135.8L206.5 136.3L210.5 136.2L211.5 136.0L212.4 135.5L213.2 134.5L214.3 131.5L214.5 130.5L214.4 128.5L213.5 124.5L212.5 123.1ZM370.5 78.8L371.5 79.0L372.7 79.5L373.6 80.5L373.8 81.5L373.6 85.5L373.2 88.5L371.4 97.5L371.4 99.5L371.8 104.5L371.8 106.5L371.4 107.5L370.5 108.5L369.5 109.1L367.5 110.0L366.5 110.2L365.5 110.1L364.5 109.7L363.0 108.5L362.4 107.5L362.1 106.5L362.2 104.5L362.6 101.5L363.3 99.5L364.8 96.5L365.0 95.5L364.9 93.5L364.1 86.5L364.2 84.5L365.3 81.5L366.7 79.5L367.5 79.0L368.5 78.8ZM130.5 153.6L131.5 154.3L132.6 155.5L134.6 158.5L135.7 160.5L136.1 162.5L136.7 168.5L136.6 171.5L135.7 175.5L133.5 182.4L132.2 184.5L128.3 188.5L126.5 190.1L124.5 191.1L121.5 191.6L114.5 192.0L112.5 192.0L109.5 190.9L103.0 187.5L102.0 186.5L101.1 184.5L100.4 181.5L100.6 179.5L101.7 177.5L107.9 169.5L110.7 165.5L113.9 158.5L115.3 156.5L118.5 153.3L119.5 152.6L120.5 152.3L121.5 152.2L124.5 152.4L128.5 153.0ZM402.5 185.3L402.5 213.2L401.0 215.5L398.2 220.5L396.3 224.5L394.1 232.5L393.4 235.5L393.3 237.5L393.9 248.5L363.1 248.5L363.4 242.5L364.1 237.5L364.6 235.5L368.5 224.7L373.1 215.5L375.4 211.5L378.5 206.7L379.5 205.5L384.5 201.5L396.5 192.7L397.5 191.5L400.8 186.5L401.5 185.8ZM381.5 215.2L380.5 215.5L379.5 216.1L378.5 217.1L377.6 218.5L376.8 220.5L376.4 222.5L376.1 226.5L376.9 230.5L378.2 233.5L379.5 234.8L380.5 235.4L381.5 235.6L382.5 235.6L383.5 235.3L384.5 234.8L385.5 233.7L386.2 232.5L387.3 229.5L387.8 226.5L387.8 224.5L387.1 220.5L385.7 217.5L384.5 216.2L383.5 215.5L382.5 215.2Z"/>
<path fill="#ff681d" stroke="#ff681d" stroke-width=".4" d="M146.5 23.9L147.5 23.9L149.3 24.5L150.5 25.3L151.5 26.4L152.3 27.5L153.3 29.5L153.9 32.5L153.9 35.5L153.7 37.5L152.6 40.5L151.5 42.1L150.5 43.2L149.5 43.9L147.5 44.6L145.5 44.4L144.5 43.9L142.8 42.5L141.3 40.5L140.9 39.5L140.5 37.5L140.6 31.5L141.1 28.5L142.3 26.5L143.5 25.3L145.5 24.1ZM381.5 215.2L382.5 215.2L383.5 215.5L384.5 216.2L385.7 217.5L387.1 220.5L387.8 224.5L387.8 226.5L387.3 229.5L386.2 232.5L385.5 233.7L384.5 234.8L383.5 235.3L382.5 235.6L381.5 235.6L380.5 235.4L379.5 234.8L378.2 233.5L376.9 230.5L376.1 226.5L376.4 222.5L376.8 220.5L377.6 218.5L378.5 217.1L379.5 216.1L380.5 215.5Z"/>
<path fill="#fff" d="M91.0 19.0L103.0 19.0L97.7 23.7L91.5 24.2L81.2 26.3L81.2 33.0L77.0 33.5L68.0 33.0L76.0 27.8L78.7 25.0L81.2 25.2L87.4 22.7ZM44.0 60.0L48.3 60.0L48.3 68.8L42.0 68.8L38.6 73.0L30.0 73.0L30.0 60.0ZM120.0 19.0L127.5 19.0L127.5 22.3L124.0 23.0L120.0 21.5ZM54.6 241.7L68.0 241.7L68.0 245.6L54.6 245.6Z"/>
<path fill="#bdebfa" d="M80.5 26.0L88.0 23.0L88.5 24.3L81.0 27.4Z"/>
<path fill="#d3d3d3" d="M91.0 19.5L87.4 22.7L81.2 25.2L78.7 25.0L76.0 27.8L70.0 30.9L66.8 35.5L65.8 40.0L64.8 43.0L66.8 46.2L69.9 48.2L71.5 46.7L70.4 49.8L66.8 50.8L63.7 49.2L61.2 51.3L57.6 52.8L54.5 53.4L50.4 53.9L46.3 55.9L43.2 59.0L44.2 62.1L43.2 66.7L40.1 70.8L38.6 73.0L37.0 75.0L30.0 75.0L30.0 10.0L91.0 10.0Z"/>
<path fill="none" stroke="#000" stroke-width=".7" stroke-linejoin="round" d="M91.0 19.5L87.4 22.7L81.2 25.2L78.7 25.0L76.0 27.8L70.0 30.9L66.8 35.5L65.8 40.0L64.8 43.0L66.8 46.2L69.9 48.2L71.5 46.7L70.4 49.8L66.8 50.8L63.7 49.2L61.2 51.3L57.6 52.8L54.5 53.4L50.4 53.9L46.3 55.9L43.2 59.0L44.2 62.1L43.2 66.7L40.1 70.8L38.6 73.0L37.0 75.0M101.8 19.9L97.7 23.7L96.1 27.3L97.7 30.9L100.7 33.0L103.8 30.4L108.0 26.5L114.0 23.5L121.0 21.5L127.0 19.6M44.7 58.5L48.3 55.9L53.5 54.4L58.1 53.9L56.6 55.9L52.4 57.0L48.3 58.0L44.7 59.5M343.3 77.3L346.5 79.2M361.7 84.1L366.7 84.1M42.7 220.4L45.5 223.3L43.2 226.1M50.3 224.6L53.1 225.0M54.1 230.3L57.3 228.8L60.3 229.5L61.8 231.4M47.8 237.1L49.3 234.9L50.4 235.2L49.3 237.5L47.4 237.9M38.3 240.9L40.8 244.2L43.6 246.3"/>
<path d="M133.4 23.0h.01M140.6 23.0h.01M147.8 23.0h.01M155.0 23.0h.01M162.2 23.0h.01M169.4 23.0h.01M176.6 23.0h.01M212.6 23.0h.01M219.8 23.0h.01M227.0 23.0h.01M234.2 23.0h.01M241.4 23.0h.01M248.6 23.0h.01M101.0 28.0h.01M108.2 28.0h.01M115.4 28.0h.01M122.6 28.0h.01M129.8 28.0h.01M137.0 28.0h.01M144.2 28.0h.01M151.4 28.0h.01M158.6 28.0h.01M165.8 28.0h.01M173.0 28.0h.01M216.2 28.0h.01M223.4 28.0h.01M230.6 28.0h.01M237.8 28.0h.01M245.0 28.0h.01M104.6 33.0h.01M111.8 33.0h.01M119.0 33.0h.01M126.2 33.0h.01M133.4 33.0h.01M140.6 33.0h.01M147.8 33.0h.01M155.0 33.0h.01M162.2 33.0h.01M169.4 33.0h.01M234.2 33.0h.01M101.0 37.9h.01M108.2 37.9h.01M115.4 37.9h.01M122.6 37.9h.01M129.8 37.9h.01M137.0 37.9h.01M144.2 37.9h.01M151.4 37.9h.01M158.6 37.9h.01M165.8 37.9h.01M97.4 42.9h.01M104.6 42.9h.01M111.8 42.9h.01M119.0 42.9h.01M126.2 42.9h.01M133.4 42.9h.01M140.6 42.9h.01M147.8 42.9h.01M155.0 42.9h.01M162.2 42.9h.01M169.4 42.9h.01M101.0 47.8h.01M108.2 47.8h.01M115.4 47.8h.01M122.6 47.8h.01M129.8 47.8h.01M137.0 47.8h.01M144.2 47.8h.01M151.4 47.8h.01M158.6 47.8h.01M165.8 47.8h.01M97.4 52.8h.01M104.6 52.8h.01M111.8 52.8h.01M119.0 52.8h.01M126.2 52.8h.01M133.4 52.8h.01M140.6 52.8h.01M147.8 52.8h.01M155.0 52.8h.01M162.2 52.8h.01M169.4 52.8h.01M93.8 57.8h.01M101.0 57.8h.01M108.2 57.8h.01M115.4 57.8h.01M122.6 57.8h.01M137.0 57.8h.01M144.2 57.8h.01M151.4 57.8h.01M158.6 57.8h.01M90.2 62.7h.01M97.4 62.7h.01M104.6 62.7h.01M248.6 62.7h.01M255.8 62.7h.01M263.0 62.7h.01M270.2 62.7h.01M93.8 67.7h.01M245.0 67.7h.01M252.2 67.7h.01M259.4 67.7h.01M266.6 67.7h.01M273.8 67.7h.01M248.6 72.6h.01M255.8 72.6h.01M263.0 72.6h.01M270.2 72.6h.01M277.4 72.6h.01M57.8 77.6h.01M194.6 77.6h.01M201.8 77.6h.01M245.0 77.6h.01M252.2 77.6h.01M259.4 77.6h.01M266.6 77.6h.01M273.8 77.6h.01M281.0 77.6h.01M288.2 77.6h.01M54.2 82.6h.01M61.4 82.6h.01M169.4 82.6h.01M176.6 82.6h.01M191.0 82.6h.01M198.2 82.6h.01M205.4 82.6h.01M212.6 82.6h.01M241.4 82.6h.01M248.6 82.6h.01M255.8 82.6h.01M263.0 82.6h.01M270.2 82.6h.01M277.4 82.6h.01M284.6 82.6h.01M291.8 82.6h.01M299.0 82.6h.01M306.2 82.6h.01M57.8 87.5h.01M65.0 87.5h.01M165.8 87.5h.01M173.0 87.5h.01M180.2 87.5h.01M187.4 87.5h.01M194.6 87.5h.01M201.8 87.5h.01M209.0 87.5h.01M216.2 87.5h.01M223.4 87.5h.01M230.6 87.5h.01M237.8 87.5h.01M245.0 87.5h.01M252.2 87.5h.01M259.4 87.5h.01M266.6 87.5h.01M273.8 87.5h.01M281.0 87.5h.01M288.2 87.5h.01M295.4 87.5h.01M302.6 87.5h.01M367.4 87.5h.01M191.0 92.5h.01M198.2 92.5h.01M205.4 92.5h.01M212.6 92.5h.01M219.8 92.5h.01M227.0 92.5h.01M234.2 92.5h.01M241.4 92.5h.01M248.6 92.5h.01M255.8 92.5h.01M263.0 92.5h.01M270.2 92.5h.01M277.4 92.5h.01M284.6 92.5h.01M291.8 92.5h.01M299.0 92.5h.01M306.2 92.5h.01M187.4 97.4h.01M194.6 97.4h.01M201.8 97.4h.01M209.0 97.4h.01M216.2 97.4h.01M223.4 97.4h.01M230.6 97.4h.01M237.8 97.4h.01M245.0 97.4h.01M252.2 97.4h.01M259.4 97.4h.01M266.6 97.4h.01M273.8 97.4h.01M281.0 97.4h.01M288.2 97.4h.01M295.4 97.4h.01M302.6 97.4h.01M309.8 97.4h.01M191.0 102.4h.01M198.2 102.4h.01M205.4 102.4h.01M212.6 102.4h.01M219.8 102.4h.01M227.0 102.4h.01M234.2 102.4h.01M241.4 102.4h.01M248.6 102.4h.01M255.8 102.4h.01M263.0 102.4h.01M270.2 102.4h.01M277.4 102.4h.01M284.6 102.4h.01M291.8 102.4h.01M299.0 102.4h.01M306.2 102.4h.01M313.4 102.4h.01M320.6 102.4h.01M363.8 102.4h.01M187.4 107.3h.01M194.6 107.3h.01M201.8 107.3h.01M209.0 107.3h.01M216.2 107.3h.01M223.4 107.3h.01M230.6 107.3h.01M237.8 107.3h.01M245.0 107.3h.01M252.2 107.3h.01M259.4 107.3h.01M266.6 107.3h.01M273.8 107.3h.01M281.0 107.3h.01M288.2 107.3h.01M295.4 107.3h.01M302.6 107.3h.01M309.8 107.3h.01M317.0 107.3h.01M324.2 107.3h.01M367.4 107.3h.01M191.0 112.3h.01M198.2 112.3h.01M205.4 112.3h.01M212.6 112.3h.01M219.8 112.3h.01M227.0 112.3h.01M234.2 112.3h.01M241.4 112.3h.01M248.6 112.3h.01M255.8 112.3h.01M263.0 112.3h.01M270.2 112.3h.01M277.4 112.3h.01M284.6 112.3h.01M291.8 112.3h.01M299.0 112.3h.01M306.2 112.3h.01M313.4 112.3h.01M320.6 112.3h.01M342.2 112.3h.01M187.4 117.3h.01M194.6 117.3h.01M201.8 117.3h.01M209.0 117.3h.01M216.2 117.3h.01M223.4 117.3h.01M230.6 117.3h.01M237.8 117.3h.01M245.0 117.3h.01M252.2 117.3h.01M259.4 117.3h.01M266.6 117.3h.01M273.8 117.3h.01M281.0 117.3h.01M288.2 117.3h.01M295.4 117.3h.01M302.6 117.3h.01M309.8 117.3h.01M317.0 117.3h.01M191.0 122.2h.01M198.2 122.2h.01M219.8 122.2h.01M227.0 122.2h.01M234.2 122.2h.01M241.4 122.2h.01M248.6 122.2h.01M255.8 122.2h.01M263.0 122.2h.01M270.2 122.2h.01M277.4 122.2h.01M284.6 122.2h.01M291.8 122.2h.01M194.6 127.2h.01M201.8 127.2h.01M216.2 127.2h.01M223.4 127.2h.01M230.6 127.2h.01M237.8 127.2h.01M245.0 127.2h.01M252.2 127.2h.01M259.4 127.2h.01M266.6 127.2h.01M273.8 127.2h.01M281.0 127.2h.01M288.2 127.2h.01M191.0 132.1h.01M198.2 132.1h.01M219.8 132.1h.01M227.0 132.1h.01M234.2 132.1h.01M241.4 132.1h.01M248.6 132.1h.01M255.8 132.1h.01M263.0 132.1h.01M270.2 132.1h.01M277.4 132.1h.01M284.6 132.1h.01M291.8 132.1h.01M187.4 137.1h.01M194.6 137.1h.01M201.8 137.1h.01M216.2 137.1h.01M223.4 137.1h.01M230.6 137.1h.01M237.8 137.1h.01M245.0 137.1h.01M252.2 137.1h.01M259.4 137.1h.01M266.6 137.1h.01M273.8 137.1h.01M281.0 137.1h.01M288.2 137.1h.01M295.4 137.1h.01M191.0 142.1h.01M198.2 142.1h.01M205.4 142.1h.01M212.6 142.1h.01M219.8 142.1h.01M227.0 142.1h.01M234.2 142.1h.01M241.4 142.1h.01M248.6 142.1h.01M255.8 142.1h.01M263.0 142.1h.01M270.2 142.1h.01M277.4 142.1h.01M284.6 142.1h.01M291.8 142.1h.01M187.4 147.0h.01M194.6 147.0h.01M201.8 147.0h.01M209.0 147.0h.01M216.2 147.0h.01M223.4 147.0h.01M230.6 147.0h.01M237.8 147.0h.01M245.0 147.0h.01M252.2 147.0h.01M259.4 147.0h.01M266.6 147.0h.01M273.8 147.0h.01M281.0 147.0h.01M288.2 147.0h.01M191.0 152.0h.01M198.2 152.0h.01M205.4 152.0h.01M212.6 152.0h.01M219.8 152.0h.01M227.0 152.0h.01M234.2 152.0h.01M241.4 152.0h.01M248.6 152.0h.01M255.8 152.0h.01M263.0 152.0h.01M270.2 152.0h.01M277.4 152.0h.01M284.6 152.0h.01M115.4 156.9h.01M122.6 156.9h.01M129.8 156.9h.01M187.4 156.9h.01M194.6 156.9h.01M201.8 156.9h.01M209.0 156.9h.01M216.2 156.9h.01M223.4 156.9h.01M230.6 156.9h.01M237.8 156.9h.01M245.0 156.9h.01M252.2 156.9h.01M259.4 156.9h.01M266.6 156.9h.01M273.8 156.9h.01M281.0 156.9h.01M111.8 161.9h.01M119.0 161.9h.01M126.2 161.9h.01M133.4 161.9h.01M183.8 161.9h.01M191.0 161.9h.01M198.2 161.9h.01M205.4 161.9h.01M212.6 161.9h.01M219.8 161.9h.01M227.0 161.9h.01M234.2 161.9h.01M241.4 161.9h.01M248.6 161.9h.01M255.8 161.9h.01M108.2 166.9h.01M115.4 166.9h.01M122.6 166.9h.01M129.8 166.9h.01M137.0 166.9h.01M180.2 166.9h.01M187.4 166.9h.01M194.6 166.9h.01M201.8 166.9h.01M209.0 166.9h.01M216.2 166.9h.01M223.4 166.9h.01M230.6 166.9h.01M237.8 166.9h.01M245.0 166.9h.01M90.2 171.8h.01M97.4 171.8h.01M104.6 171.8h.01M111.8 171.8h.01M119.0 171.8h.01M126.2 171.8h.01M133.4 171.8h.01M140.6 171.8h.01M176.6 171.8h.01M183.8 171.8h.01M191.0 171.8h.01M198.2 171.8h.01M205.4 171.8h.01M212.6 171.8h.01M219.8 171.8h.01M227.0 171.8h.01M234.2 171.8h.01M241.4 171.8h.01M93.8 176.8h.01M101.0 176.8h.01M108.2 176.8h.01M115.4 176.8h.01M122.6 176.8h.01M129.8 176.8h.01M137.0 176.8h.01M144.2 176.8h.01M173.0 176.8h.01M180.2 176.8h.01M187.4 176.8h.01M194.6 176.8h.01M201.8 176.8h.01M209.0 176.8h.01M237.8 176.8h.01M90.2 181.7h.01M97.4 181.7h.01M104.6 181.7h.01M111.8 181.7h.01M119.0 181.7h.01M126.2 181.7h.01M133.4 181.7h.01M140.6 181.7h.01M147.8 181.7h.01M155.0 181.7h.01M162.2 181.7h.01M169.4 181.7h.01M176.6 181.7h.01M183.8 181.7h.01M191.0 181.7h.01M198.2 181.7h.01M205.4 181.7h.01M212.6 181.7h.01M93.8 186.7h.01M101.0 186.7h.01M108.2 186.7h.01M115.4 186.7h.01M122.6 186.7h.01M129.8 186.7h.01M137.0 186.7h.01M144.2 186.7h.01M151.4 186.7h.01M158.6 186.7h.01M165.8 186.7h.01M173.0 186.7h.01M180.2 186.7h.01M187.4 186.7h.01M209.0 186.7h.01M237.8 186.7h.01M90.2 191.7h.01M97.4 191.7h.01M104.6 191.7h.01M111.8 191.7h.01M119.0 191.7h.01M126.2 191.7h.01M133.4 191.7h.01M140.6 191.7h.01M147.8 191.7h.01M155.0 191.7h.01M162.2 191.7h.01M169.4 191.7h.01M176.6 191.7h.01M183.8 191.7h.01M227.0 191.7h.01M234.2 191.7h.01M93.8 196.6h.01M101.0 196.6h.01M108.2 196.6h.01M115.4 196.6h.01M122.6 196.6h.01M129.8 196.6h.01M137.0 196.6h.01M144.2 196.6h.01M151.4 196.6h.01M158.6 196.6h.01M165.8 196.6h.01M173.0 196.6h.01M180.2 196.6h.01M223.4 196.6h.01M230.6 196.6h.01M237.8 196.6h.01M396.2 196.6h.01M97.4 201.6h.01M104.6 201.6h.01M111.8 201.6h.01M119.0 201.6h.01M126.2 201.6h.01M133.4 201.6h.01M140.6 201.6h.01M147.8 201.6h.01M155.0 201.6h.01M162.2 201.6h.01M169.4 201.6h.01M176.6 201.6h.01M183.8 201.6h.01M385.4 201.6h.01M392.6 201.6h.01M101.0 206.5h.01M108.2 206.5h.01M115.4 206.5h.01M122.6 206.5h.01M129.8 206.5h.01M137.0 206.5h.01M144.2 206.5h.01M151.4 206.5h.01M158.6 206.5h.01M165.8 206.5h.01M173.0 206.5h.01M180.2 206.5h.01M187.4 206.5h.01M381.8 206.5h.01M389.0 206.5h.01M396.2 206.5h.01M104.6 211.5h.01M111.8 211.5h.01M119.0 211.5h.01M126.2 211.5h.01M133.4 211.5h.01M140.6 211.5h.01M147.8 211.5h.01M155.0 211.5h.01M162.2 211.5h.01M169.4 211.5h.01M176.6 211.5h.01M183.8 211.5h.01M191.0 211.5h.01M378.2 211.5h.01M385.4 211.5h.01M392.6 211.5h.01M108.2 216.5h.01M115.4 216.5h.01M122.6 216.5h.01M129.8 216.5h.01M137.0 216.5h.01M144.2 216.5h.01M151.4 216.5h.01M158.6 216.5h.01M165.8 216.5h.01M173.0 216.5h.01M180.2 216.5h.01M187.4 216.5h.01M194.6 216.5h.01M201.8 216.5h.01M374.6 216.5h.01M381.8 216.5h.01M389.0 216.5h.01M396.2 216.5h.01M111.8 221.4h.01M119.0 221.4h.01M126.2 221.4h.01M133.4 221.4h.01M140.6 221.4h.01M147.8 221.4h.01M155.0 221.4h.01M162.2 221.4h.01M169.4 221.4h.01M176.6 221.4h.01M183.8 221.4h.01M191.0 221.4h.01M198.2 221.4h.01M371.0 221.4h.01M378.2 221.4h.01M385.4 221.4h.01M392.6 221.4h.01M108.2 226.4h.01M115.4 226.4h.01M122.6 226.4h.01M129.8 226.4h.01M137.0 226.4h.01M144.2 226.4h.01M151.4 226.4h.01M158.6 226.4h.01M165.8 226.4h.01M173.0 226.4h.01M180.2 226.4h.01M187.4 226.4h.01M194.6 226.4h.01M367.4 226.4h.01M374.6 226.4h.01M381.8 226.4h.01M389.0 226.4h.01M396.2 226.4h.01M111.8 231.3h.01M119.0 231.3h.01M126.2 231.3h.01M133.4 231.3h.01M140.6 231.3h.01M147.8 231.3h.01M155.0 231.3h.01M162.2 231.3h.01M169.4 231.3h.01M176.6 231.3h.01M183.8 231.3h.01M371.0 231.3h.01M378.2 231.3h.01M385.4 231.3h.01M392.6 231.3h.01M108.2 236.3h.01M115.4 236.3h.01M122.6 236.3h.01M129.8 236.3h.01M137.0 236.3h.01M144.2 236.3h.01M151.4 236.3h.01M158.6 236.3h.01M165.8 236.3h.01M173.0 236.3h.01M180.2 236.3h.01M367.4 236.3h.01M374.6 236.3h.01M381.8 236.3h.01M389.0 236.3h.01M396.2 236.3h.01M111.8 241.2h.01M119.0 241.2h.01M126.2 241.2h.01M133.4 241.2h.01M140.6 241.2h.01M147.8 241.2h.01M155.0 241.2h.01M162.2 241.2h.01M169.4 241.2h.01M363.8 241.2h.01M371.0 241.2h.01M378.2 241.2h.01M385.4 241.2h.01M392.6 241.2h.01" fill="none" stroke="#000" stroke-width="1.68" stroke-linecap="round"/>
</g>
<g clip-path="url(#cb)">
<rect x="456" y="19" width="229" height="228" fill="#ffa51f"/>
<path fill="#fff6d4" stroke="#fff6d4" stroke-width=".4" d="M455.5 132.6L458.5 132.8L461.9 133.5L464.6 134.5L466.3 135.5L467.4 136.5L468.9 138.5L469.3 139.5L469.4 140.5L468.8 142.5L467.5 144.2L465.5 145.7L462.5 147.0L458.5 148.0L455.5 148.2ZM655.6 143.5L656.1 142.5L657.5 141.2L658.5 140.7L660.5 140.4L662.5 140.7L664.5 141.3L665.7 142.5L665.9 143.5L665.8 144.5L665.2 145.5L664.5 146.1L662.5 147.1L660.5 147.4L658.5 147.1L657.5 146.7L656.5 146.0L656.0 145.5L655.6 144.5Z"/>
<path fill="#ffeda5" stroke="#ffeda5" stroke-width=".4" d="M684.5 102.5L684.5 150.0L679.6 152.5L662.6 162.5L651.1 170.5L650.1 171.5L649.5 172.5L649.4 173.5L649.6 174.5L651.4 178.5L651.5 179.5L651.3 180.5L650.5 181.4L649.5 182.0L648.5 182.2L647.5 182.1L646.5 181.7L644.3 179.5L642.1 176.5L641.3 173.5L640.7 167.5L640.1 164.5L638.5 161.5L633.7 153.5L632.8 151.5L632.7 149.5L634.1 145.5L635.5 143.5L637.5 142.1L665.5 131.0L667.5 129.9L668.5 128.7L668.9 127.5L669.0 125.5L668.7 123.5L668.3 122.5L666.5 120.9L661.5 117.6L656.5 113.2L655.1 111.5L654.8 110.5L654.8 109.5L655.5 108.0L656.5 106.9L657.5 106.3L659.5 105.5L666.1 103.5L669.5 102.7L672.5 102.5ZM665.7 142.5L664.8 141.5L663.5 140.9L661.5 140.5L659.5 140.5L657.5 141.2L656.1 142.5L655.6 143.5L655.6 144.5L656.0 145.5L657.5 146.7L659.5 147.3L661.5 147.3L663.5 146.6L665.2 145.5L665.8 144.5L665.9 143.5ZM455.5 129.8L459.5 130.1L462.5 130.8L465.5 131.8L468.6 133.5L470.5 135.2L471.7 136.5L472.5 137.9L473.1 139.5L473.3 141.5L473.2 142.5L472.5 144.5L471.9 145.5L470.5 147.2L468.5 148.9L465.5 150.5L462.5 151.5L458.5 152.3L455.5 152.5L455.5 148.2L458.5 148.0L460.5 147.6L463.5 146.7L465.5 145.7L467.2 144.5L468.2 143.5L468.8 142.5L469.4 140.5L469.3 139.5L468.9 138.5L468.3 137.5L467.4 136.5L465.5 135.0L464.5 134.5L461.5 133.4L458.5 132.8L455.5 132.6ZM678.5 166.4L680.5 165.8L684.5 165.1L684.5 179.9L682.5 178.6L679.5 176.0L678.2 174.5L677.7 173.5L677.1 171.5L677.0 168.5L677.3 167.5Z"/>
<path fill="#ffd970" stroke="#ffd970" stroke-width=".4" d="M457.5 95.7L459.5 96.5L462.6 98.5L463.5 99.5L464.3 101.5L465.3 108.5L465.0 111.5L463.4 119.5L463.0 120.5L462.2 121.5L459.5 123.5L460.3 124.5L465.5 126.4L468.5 127.8L470.5 129.1L472.1 130.5L474.5 133.5L475.5 135.4L476.7 138.5L477.0 141.5L476.5 144.5L475.2 147.5L473.5 149.7L470.5 152.6L468.5 153.9L464.5 155.7L460.5 156.7L457.5 157.0L455.5 156.7L455.5 152.5L458.5 152.3L461.5 151.7L464.5 150.9L467.5 149.5L470.2 147.5L471.9 145.5L472.9 143.5L473.3 141.5L473.1 139.5L472.8 138.5L471.7 136.5L469.5 134.2L467.5 132.8L465.5 131.8L462.5 130.8L458.5 130.0L455.5 129.8L455.5 124.5L456.3 123.5L455.5 119.9L455.5 98.3L456.0 96.5L456.5 95.9ZM684.5 96.9L684.5 102.5L672.5 102.5L669.5 102.7L666.1 103.5L658.5 105.9L657.1 106.5L655.9 107.5L655.2 108.5L654.8 109.5L654.8 110.5L655.1 111.5L655.9 112.5L661.5 117.6L666.5 120.9L668.3 122.5L668.7 123.5L669.0 125.5L668.9 127.5L668.5 128.7L667.5 129.9L665.5 131.0L636.8 142.5L635.5 143.5L634.7 144.5L633.3 147.5L632.7 149.5L632.6 150.5L633.1 152.5L638.5 161.5L640.1 164.5L640.7 167.5L641.3 173.5L642.1 176.5L643.4 178.5L645.5 180.9L646.5 181.7L647.5 182.1L648.5 182.2L649.5 182.0L650.5 181.4L651.3 180.5L651.5 179.5L651.4 178.5L649.6 174.5L649.4 173.5L649.5 172.5L650.5 171.0L662.6 162.5L679.6 152.5L684.5 150.0L684.5 165.1L679.5 166.1L678.3 166.5L677.3 167.5L677.0 168.5L676.9 169.5L677.3 172.5L678.2 174.5L679.0 175.5L681.5 177.7L684.5 179.9L684.5 210.0L682.5 210.9L671.5 217.6L669.5 218.2L668.5 218.2L666.6 217.5L664.5 216.5L663.1 215.5L662.4 214.5L662.2 213.5L662.2 212.5L664.2 204.5L664.6 201.5L664.3 199.5L662.8 194.5L662.1 192.5L661.4 191.5L660.5 190.7L659.5 190.3L656.5 189.6L649.8 187.5L639.5 183.1L636.5 181.5L633.3 178.5L625.5 170.2L618.4 161.5L616.2 158.5L615.8 157.5L615.6 156.5L615.8 155.5L618.2 148.5L620.3 143.5L624.3 134.5L625.4 132.5L626.5 131.1L629.5 128.5L631.5 127.3L634.5 126.4L643.5 124.5L645.5 123.5L646.2 122.5L647.0 120.5L648.0 116.5L649.7 107.5L650.5 105.7L651.5 104.7L653.5 103.5L658.5 101.0L661.5 99.9L664.5 99.5L668.5 99.3L673.5 98.8L678.5 98.1ZM562.3 107.5L562.5 106.5L563.6 105.5L566.5 104.7L571.5 104.5L573.5 104.9L574.6 105.5L575.5 106.5L575.9 107.5L575.8 108.5L575.3 109.5L573.5 110.9L571.5 111.8L567.5 112.5L566.5 112.5L565.5 112.2L564.5 111.5L563.0 109.5L562.5 108.5ZM601.5 160.1L603.5 160.4L605.5 161.2L607.5 162.5L608.6 163.5L609.9 165.5L610.5 167.5L610.7 169.5L610.3 171.5L609.3 173.5L607.9 175.5L606.5 176.8L604.5 178.0L601.5 179.1L599.5 179.4L596.5 179.3L594.5 178.7L592.5 177.5L591.5 176.7L590.3 175.5L589.5 174.1L589.0 172.5L588.8 170.5L589.5 167.5L590.5 165.7L592.5 163.5L594.5 162.0L596.5 161.0L598.5 160.3ZM581.5 187.1L584.5 188.5L586.0 189.5L586.9 190.5L587.4 192.5L587.9 197.5L587.8 200.5L584.9 210.5L584.1 212.5L582.7 214.5L579.7 218.5L578.5 219.7L576.5 220.7L574.5 221.1L570.5 221.6L569.5 221.6L568.5 221.3L567.3 220.5L564.9 217.5L563.5 215.5L562.7 213.5L562.6 210.5L563.2 203.5L564.4 199.5L565.6 196.5L566.8 194.5L570.3 190.5L572.5 188.5L574.5 187.7L577.5 187.1L579.5 186.8Z"/>
<path fill="#ffbe45" stroke="#ffbe45" stroke-width=".4" d="M455.5 33.7L455.5 17.5L557.0 17.5L555.9 19.5L554.5 20.7L549.8 23.5L547.2 24.5L538.4 26.5L532.9 27.5L495.5 32.4L492.5 33.1L483.5 36.5L479.9 37.5L472.5 38.0L469.5 37.9L467.3 37.5L456.5 34.5ZM647.5 76.5L648.1 75.5L649.5 75.0L667.5 75.0L668.5 75.1L669.5 75.5L670.0 76.5L670.0 77.5L669.5 79.5L668.5 81.1L666.8 82.5L664.5 84.1L663.5 84.6L661.5 85.0L656.5 85.0L654.0 84.5L652.3 83.5L649.5 81.4L648.6 80.5L648.0 79.5L647.5 77.7ZM456.5 92.2L458.5 92.5L464.6 95.5L466.5 97.0L467.5 98.5L469.6 103.5L470.2 105.5L470.3 106.5L469.0 116.5L469.0 118.5L469.4 119.5L470.6 121.5L477.1 129.5L477.5 130.5L477.9 134.5L478.3 135.5L479.5 136.8L481.5 137.7L482.4 138.5L482.7 139.5L482.7 140.5L482.3 143.5L481.6 146.5L478.5 153.5L476.4 157.5L475.5 158.8L468.9 166.5L467.8 168.5L465.5 173.9L464.5 175.5L463.5 176.5L459.4 179.5L457.5 180.5L456.5 180.6L455.5 180.1L455.5 156.7L456.5 157.0L458.5 157.0L462.5 156.3L466.5 154.9L469.5 153.3L472.8 150.5L475.2 147.5L476.5 144.5L477.0 141.5L476.7 138.5L475.5 135.4L474.5 133.5L472.1 130.5L470.5 129.1L468.5 127.8L465.5 126.4L460.3 124.5L459.5 123.5L462.2 121.5L463.0 120.5L463.4 119.5L465.2 110.5L465.2 107.5L464.4 102.5L464.0 100.5L463.5 99.5L462.6 98.5L459.5 96.5L457.5 95.7L456.5 95.9L456.0 96.5L455.5 98.3L455.5 92.6ZM528.5 107.7L531.5 105.2L533.5 104.3L551.5 102.1L563.5 100.1L566.5 99.9L574.5 99.9L587.5 101.2L589.5 101.0L592.5 99.7L600.5 95.3L602.4 94.5L603.5 94.3L605.7 94.5L615.8 96.5L631.5 100.0L643.5 102.1L645.5 102.0L646.5 101.6L654.5 97.8L656.5 97.2L669.5 97.3L674.5 96.6L684.5 94.9L684.5 96.9L678.5 98.1L673.5 98.8L668.5 99.3L664.5 99.5L661.5 99.9L658.5 101.0L653.5 103.5L651.5 104.7L650.5 105.7L649.7 107.5L648.0 116.5L647.0 120.5L646.2 122.5L645.5 123.5L643.5 124.5L634.5 126.4L631.5 127.3L629.5 128.5L626.1 131.5L624.3 134.5L619.4 145.5L616.0 154.5L615.6 156.5L615.8 157.5L616.8 159.5L624.9 169.5L633.3 178.5L636.5 181.5L639.5 183.1L649.8 187.5L656.5 189.6L659.5 190.3L660.5 190.7L661.5 191.6L662.1 192.5L662.8 194.5L664.3 199.5L664.6 201.5L664.2 204.5L662.2 212.5L662.2 213.5L662.4 214.5L663.5 215.8L667.5 217.9L669.5 218.2L670.5 218.0L672.5 217.0L682.5 210.9L684.5 210.0L684.5 224.7L679.5 225.3L676.5 226.0L672.5 228.1L664.0 233.5L662.2 234.5L660.5 235.2L653.5 236.5L651.5 236.6L650.5 236.2L649.5 235.4L647.3 232.5L646.5 231.1L646.3 229.5L647.1 227.5L650.5 221.8L656.8 213.5L657.9 211.5L658.2 210.5L658.8 207.5L659.2 200.5L658.9 198.5L656.4 193.5L655.8 192.5L654.7 191.5L653.5 190.9L648.5 190.0L636.5 185.6L632.5 184.8L620.5 183.7L617.5 184.0L605.5 186.1L603.5 186.8L598.5 189.3L597.0 190.5L596.4 191.5L596.1 192.5L596.3 194.5L597.6 199.5L598.0 202.5L598.1 205.5L597.5 213.5L596.5 216.5L593.5 222.3L592.4 223.5L590.9 224.5L585.5 226.7L582.8 227.5L568.5 227.6L566.5 227.3L562.5 226.2L551.5 224.0L550.2 223.5L548.6 222.5L545.3 219.5L544.7 218.5L544.5 217.5L545.3 213.5L546.5 211.0L551.5 204.4L554.1 201.5L569.7 187.5L576.5 182.1L578.9 179.5L579.9 177.5L583.5 169.1L584.4 167.5L586.2 165.5L593.7 158.5L595.0 156.5L598.0 151.5L599.1 148.5L599.1 143.5L599.4 141.5L600.5 137.2L601.5 135.1L602.5 134.3L603.5 133.9L611.5 132.0L617.5 129.9L620.5 128.2L626.5 124.2L628.2 122.5L629.0 120.5L629.3 118.5L629.4 114.5L629.2 113.5L628.5 112.6L627.5 111.9L624.5 111.0L618.5 109.9L616.5 110.2L606.5 114.7L604.5 115.3L602.5 115.4L592.5 114.6L580.5 115.6L575.5 115.7L570.5 116.1L565.5 116.0L559.2 115.5L553.5 114.5L548.5 113.0L545.5 112.3L543.5 112.3L532.5 113.3L531.5 113.3L530.5 113.0L529.5 112.4L528.6 111.5L527.9 110.5L527.6 109.5L527.9 108.5ZM581.5 187.1L579.5 186.8L577.5 187.1L574.5 187.7L572.5 188.5L570.3 190.5L566.8 194.5L565.6 196.5L564.4 199.5L563.2 203.5L562.6 210.5L562.7 213.5L563.5 215.5L564.9 217.5L567.3 220.5L568.5 221.3L569.5 221.6L570.5 221.6L574.5 221.1L576.5 220.7L578.5 219.7L579.7 218.5L582.7 214.5L584.1 212.5L584.9 210.5L587.8 200.5L587.9 197.5L587.4 192.5L586.9 190.5L586.0 189.5L584.5 188.5ZM602.5 160.2L600.5 160.1L598.5 160.3L596.5 161.0L594.5 162.0L592.5 163.5L590.5 165.7L589.5 167.5L588.8 170.5L589.0 172.5L589.5 174.1L590.3 175.5L591.5 176.7L592.5 177.5L594.5 178.7L596.5 179.3L599.5 179.4L601.5 179.1L603.5 178.5L605.5 177.5L607.5 175.9L608.7 174.5L609.9 172.5L610.5 170.5L610.7 168.5L610.3 166.5L609.3 164.5L608.5 163.4L606.5 161.8L604.5 160.8ZM562.3 107.5L562.5 108.5L563.0 109.5L564.5 111.5L565.5 112.2L566.5 112.5L567.5 112.5L571.5 111.8L573.5 110.9L575.3 109.5L575.8 108.5L575.9 107.5L575.5 106.5L574.6 105.5L573.5 104.9L571.5 104.5L566.5 104.7L563.6 105.5L562.5 106.5ZM492.5 102.6L494.5 101.8L495.5 101.7L497.5 101.9L499.5 102.8L500.5 103.5L501.5 104.7L502.4 106.5L502.6 107.5L502.7 109.5L502.4 110.5L501.5 112.4L500.5 113.6L499.5 114.3L498.5 114.8L496.5 115.3L494.5 115.2L492.5 114.5L491.2 113.5L490.3 112.5L489.7 111.5L489.2 109.5L489.4 106.5L490.5 104.4ZM455.5 119.9L456.3 123.5L455.5 124.5ZM455.5 205.6L455.5 200.2L458.5 199.9L462.5 200.0L464.2 200.5L464.9 201.5L464.8 202.5L463.9 203.5L461.5 204.9L459.5 205.5Z"/>
<path fill="#ffa41f" stroke="#ffa41f" stroke-width=".4" d="M560.1 17.5L558.7 20.5L557.5 22.0L554.5 24.2L551.5 25.9L548.5 27.1L536.5 29.8L494.5 35.5L491.3 36.5L482.5 39.9L480.5 40.3L476.7 40.5L472.5 41.0L469.5 40.9L466.5 40.3L460.7 38.5L455.5 37.3L455.5 33.7L456.5 34.5L467.3 37.5L469.5 37.9L472.5 38.0L479.5 37.5L483.5 36.5L492.5 33.1L495.5 32.4L532.9 27.5L536.5 26.9L546.5 24.7L549.5 23.7L554.8 20.5L555.9 19.5L557.0 17.5ZM644.5 75.5L644.7 74.5L645.5 73.2L646.5 72.6L648.5 72.1L668.5 72.0L670.5 72.4L671.5 72.8L672.2 73.5L672.9 74.5L673.1 76.5L672.8 78.5L671.8 81.5L670.1 83.5L666.5 86.3L664.5 87.4L662.5 87.9L656.5 88.0L654.5 87.7L652.5 87.0L648.5 84.3L646.5 82.5L645.7 81.5L644.9 79.5L644.6 77.5ZM647.5 76.5L647.5 77.7L648.0 79.5L648.6 80.5L649.5 81.4L652.3 83.5L654.0 84.5L656.5 85.0L661.5 85.0L663.5 84.6L664.5 84.1L666.8 82.5L668.5 81.1L669.5 79.5L670.0 77.5L670.0 76.5L669.5 75.5L668.5 75.1L667.5 75.0L649.5 75.0L648.1 75.5ZM456.5 89.2L459.5 89.9L465.5 92.8L468.0 94.5L469.0 95.5L469.6 96.5L471.9 101.5L473.0 104.5L473.2 105.5L473.1 108.5L471.9 116.5L472.2 118.5L473.4 120.5L479.2 127.5L480.3 129.5L480.7 133.5L481.5 134.5L483.5 135.3L484.9 136.5L485.4 137.5L485.7 139.5L485.1 144.5L484.3 147.5L478.9 158.5L477.7 160.5L471.5 167.8L470.5 169.4L468.8 173.5L467.3 176.5L465.5 178.5L460.5 182.2L458.5 183.3L456.5 183.7L455.5 183.7L455.5 180.1L456.5 180.6L457.5 180.5L458.5 180.0L462.2 177.5L464.5 175.5L465.5 173.9L467.8 168.5L468.9 166.5L475.5 158.8L476.5 157.4L478.5 153.5L481.6 146.5L482.3 143.5L482.7 140.5L482.7 139.5L482.4 138.5L481.5 137.7L479.5 136.8L478.3 135.5L477.9 134.5L477.5 130.5L477.1 129.5L470.6 121.5L469.4 119.5L469.0 118.5L469.0 116.5L470.3 106.5L470.2 105.5L469.6 103.5L467.5 98.6L466.5 97.0L465.5 96.1L460.7 93.5L457.5 92.2L456.5 92.2L455.5 92.6L455.5 89.3ZM525.7 106.5L529.5 103.1L531.5 101.9L535.5 101.1L549.5 99.5L563.5 97.2L566.5 97.0L574.5 97.0L586.5 98.2L588.5 98.2L590.6 97.5L600.5 92.1L601.5 91.7L603.5 91.4L607.5 91.9L618.5 94.1L633.7 97.5L643.5 99.1L644.5 99.1L646.5 98.6L653.5 95.1L656.5 94.2L669.5 94.8L672.6 94.5L681.5 92.9L684.5 92.6L684.5 94.9L674.5 96.6L669.5 97.3L656.5 97.2L654.5 97.8L646.5 101.6L644.5 102.1L641.5 101.8L631.5 100.0L615.8 96.5L605.7 94.5L603.5 94.3L602.4 94.5L600.5 95.3L591.5 100.2L589.5 101.0L588.5 101.1L583.5 100.8L574.5 99.9L565.5 99.9L560.8 100.5L550.5 102.2L534.5 104.1L532.5 104.7L530.5 106.0L528.5 107.7L527.9 108.5L527.6 109.5L527.9 110.5L528.6 111.5L529.7 112.5L531.5 113.3L532.5 113.3L543.5 112.3L545.5 112.3L548.5 113.0L553.5 114.5L559.2 115.5L566.5 116.1L570.5 116.1L575.5 115.7L581.5 115.5L584.5 115.2L592.5 114.6L602.5 115.4L604.5 115.3L606.5 114.7L616.5 110.2L618.5 109.9L624.5 111.0L627.5 111.9L628.5 112.6L629.2 113.5L629.4 114.5L629.3 118.5L629.0 120.5L628.2 122.5L626.5 124.2L620.5 128.2L617.5 129.9L611.5 132.0L603.5 133.9L602.5 134.3L601.5 135.1L600.5 137.2L599.4 141.5L599.1 143.5L599.1 148.5L598.0 151.5L595.0 156.5L593.7 158.5L586.2 165.5L584.4 167.5L583.5 169.1L579.9 177.5L578.9 179.5L576.5 182.1L569.7 187.5L554.1 201.5L551.5 204.4L546.5 211.0L545.3 213.5L544.5 217.5L544.7 218.5L545.3 219.5L548.6 222.5L550.2 223.5L551.5 224.0L562.5 226.2L566.5 227.3L568.5 227.6L582.8 227.5L585.5 226.7L590.9 224.5L592.4 223.5L593.5 222.3L596.5 216.5L597.5 213.5L598.1 205.5L598.0 202.5L597.6 199.5L596.3 194.5L596.1 192.5L596.4 191.5L597.0 190.5L598.5 189.3L603.5 186.8L605.5 186.1L617.5 184.0L619.5 183.7L621.5 183.7L632.5 184.8L636.5 185.6L648.5 190.0L653.5 190.9L654.7 191.5L655.8 192.5L657.0 194.5L658.9 198.5L659.2 200.5L658.8 207.5L658.2 210.5L657.9 211.5L656.8 213.5L650.5 221.8L647.1 227.5L646.3 229.5L646.5 231.1L647.3 232.5L649.5 235.4L650.5 236.2L651.5 236.6L653.5 236.5L659.4 235.5L661.5 234.8L664.0 233.5L674.5 226.9L677.5 225.7L680.5 225.1L684.5 224.7L684.5 227.5L678.5 228.4L675.7 229.5L665.5 236.0L663.5 237.1L661.5 237.9L653.5 239.4L651.5 239.5L649.5 239.1L647.5 237.5L645.9 235.5L643.8 232.5L643.2 230.5L643.3 229.5L643.9 227.5L647.9 220.5L654.5 211.8L655.5 209.7L655.9 206.5L656.3 200.5L655.5 197.9L654.5 195.8L653.5 194.2L652.5 193.4L648.5 192.9L636.4 188.5L630.8 187.5L620.5 186.6L607.5 188.6L604.5 189.5L600.4 191.5L599.4 192.5L599.2 193.5L599.3 194.5L600.7 200.5L601.0 202.5L600.9 206.5L600.5 209.7L600.2 214.5L599.2 217.5L596.1 223.5L594.5 225.5L592.5 226.9L585.5 229.8L583.5 230.3L568.5 230.4L565.5 230.1L563.8 229.5L559.4 228.5L551.5 227.0L548.5 225.9L547.5 225.3L543.1 221.5L541.8 219.5L541.6 218.5L541.8 215.5L543.0 211.5L544.7 208.5L550.2 201.5L552.0 199.5L562.5 190.1L573.9 180.5L575.5 179.1L576.5 177.8L577.5 176.0L581.1 167.5L582.3 165.5L583.5 164.1L591.5 156.7L595.5 150.0L596.3 147.5L596.2 143.5L596.9 139.5L598.0 135.5L598.9 133.5L599.5 132.8L600.5 132.0L602.5 131.2L609.9 129.5L615.9 127.5L619.5 125.5L623.9 122.5L625.5 121.1L626.2 119.5L626.5 118.5L626.5 115.5L625.5 114.3L622.5 113.5L618.5 112.9L617.5 113.0L615.9 113.5L606.5 117.8L604.5 118.3L602.5 118.3L592.5 117.5L588.5 117.9L581.5 118.4L575.5 118.5L572.5 118.9L569.5 119.0L565.5 118.9L556.5 118.1L552.5 117.2L546.9 115.5L545.5 115.3L539.6 115.5L536.5 115.9L531.5 116.3L529.5 115.8L528.5 115.2L526.6 113.5L525.0 111.5L524.6 110.5L524.6 108.5L525.0 107.5ZM492.5 99.6L494.5 99.1L495.5 99.0L497.5 99.1L499.5 99.8L501.5 100.9L502.5 101.8L503.9 103.5L504.9 105.5L505.2 106.5L505.4 108.5L504.9 111.5L504.0 113.5L502.5 115.3L501.5 116.2L499.5 117.3L497.5 117.9L495.5 118.0L494.5 118.0L492.5 117.4L491.5 117.0L489.5 115.5L487.7 113.5L487.1 112.5L486.8 111.5L486.5 109.5L486.6 107.5L486.9 105.5L487.8 103.5L488.6 102.5L490.5 100.8ZM493.5 102.1L491.3 103.5L490.4 104.5L489.4 106.5L489.1 108.5L489.5 111.1L490.3 112.5L491.2 113.5L492.5 114.5L493.5 114.9L495.5 115.3L496.5 115.3L498.5 114.8L500.5 113.6L501.4 112.5L502.0 111.5L502.7 109.5L502.6 107.5L502.4 106.5L501.4 104.5L500.5 103.5L499.0 102.5L496.5 101.7L494.5 101.8ZM455.5 208.4L455.5 205.6L459.5 205.5L461.5 204.9L463.9 203.5L464.8 202.5L464.9 201.5L464.2 200.5L462.5 200.0L458.5 199.9L455.5 200.2L455.5 197.2L458.5 197.0L463.5 197.1L465.5 197.7L466.5 198.4L467.2 199.5L467.2 201.5L466.5 203.2L465.5 204.3L461.5 206.9L459.5 207.9L457.5 208.4Z"/>
<path fill="#ffa51f" stroke="#ffa51f" stroke-width=".4" d="M455.5 37.3L460.7 38.5L466.5 40.3L469.5 40.9L472.5 41.0L476.7 40.5L480.5 40.3L482.5 39.9L491.3 36.5L494.5 35.5L536.5 29.8L548.5 27.1L551.5 25.9L554.5 24.2L557.5 22.0L558.7 20.5L560.1 17.5L635.8 17.5L635.1 19.5L634.3 20.5L633.5 21.2L628.5 24.0L626.5 24.8L624.5 25.3L612.5 27.7L605.5 28.2L600.5 28.3L592.5 28.9L576.5 31.0L573.5 31.6L568.7 33.5L565.5 35.8L563.5 36.9L556.4 39.5L547.5 43.8L544.5 44.9L530.5 47.7L512.5 49.9L500.5 52.1L493.5 52.8L488.5 52.9L482.8 53.5L478.8 54.5L472.5 56.5L470.5 57.6L467.5 60.0L466.3 61.5L465.3 63.5L464.3 66.5L463.8 69.5L463.9 73.5L464.3 75.5L464.7 76.5L465.9 78.5L467.5 80.6L472.1 84.5L474.5 86.1L475.6 86.5L478.5 87.0L487.5 87.6L489.5 87.5L507.5 84.8L528.5 84.7L532.5 84.3L538.5 84.1L542.5 83.8L546.5 83.6L554.5 82.9L556.5 82.5L558.5 81.9L563.0 79.5L564.5 77.9L566.5 74.1L567.5 73.3L568.5 73.0L574.5 73.2L590.5 73.2L593.5 73.0L595.5 72.5L609.4 68.5L611.8 67.5L613.0 66.5L614.5 64.8L625.8 50.5L627.5 48.9L629.5 47.9L634.5 46.1L636.5 45.8L647.5 46.6L649.5 46.5L652.3 45.5L659.5 41.9L662.5 40.7L676.5 37.2L684.5 34.5L684.5 92.6L681.5 92.9L672.6 94.5L669.5 94.8L656.5 94.2L653.5 95.1L646.5 98.6L644.5 99.1L643.5 99.1L633.7 97.5L618.5 94.1L607.5 91.9L603.5 91.4L601.5 91.7L600.5 92.1L590.6 97.5L588.5 98.2L586.5 98.2L574.5 97.0L564.5 97.1L549.5 99.5L535.5 101.1L531.5 101.9L529.5 103.1L526.5 105.6L525.0 107.5L524.6 108.5L524.5 109.5L524.6 110.5L525.0 111.5L526.5 113.4L528.5 115.2L530.5 116.1L532.5 116.3L539.6 115.5L545.5 115.3L546.9 115.5L551.5 116.9L555.5 117.9L565.5 118.9L571.5 119.0L575.2 118.5L581.5 118.4L588.5 117.9L592.5 117.5L602.5 118.3L604.5 118.3L606.5 117.8L615.9 113.5L617.5 113.0L618.5 112.9L622.5 113.5L625.5 114.3L626.5 115.5L626.5 118.5L626.2 119.5L625.5 121.1L623.9 122.5L619.5 125.5L615.9 127.5L609.9 129.5L603.5 130.9L600.5 132.0L598.9 133.5L598.0 135.5L596.7 140.5L596.2 143.5L596.3 147.5L595.5 150.0L591.5 156.7L583.5 164.1L582.3 165.5L581.1 167.5L577.5 176.0L576.5 177.8L575.5 179.1L573.9 180.5L562.5 190.1L552.0 199.5L550.2 201.5L544.0 209.5L543.0 211.5L542.1 214.5L541.7 216.5L541.6 218.5L541.8 219.5L542.4 220.5L543.1 221.5L547.5 225.3L549.5 226.4L551.5 227.0L559.4 228.5L566.5 230.3L569.5 230.4L581.5 230.4L583.5 230.3L585.5 229.8L592.5 226.9L594.5 225.5L596.1 223.5L599.2 217.5L600.0 215.5L600.4 213.5L600.5 209.7L600.9 206.5L601.0 202.5L600.7 200.5L599.5 195.6L599.2 193.5L599.4 192.5L600.4 191.5L604.4 189.5L607.5 188.6L619.5 186.6L621.5 186.6L630.8 187.5L636.4 188.5L648.5 192.9L652.7 193.5L653.5 194.2L654.5 195.8L656.1 199.5L656.3 201.5L655.9 206.5L655.5 209.5L654.5 211.8L647.9 220.5L643.9 227.5L643.3 229.5L643.2 230.5L643.8 232.5L646.7 236.5L648.5 238.4L649.5 239.1L650.5 239.4L653.5 239.4L660.5 238.2L663.5 237.1L676.5 229.2L678.5 228.4L684.5 227.5L684.5 248.5L499.6 248.5L499.5 247.5L498.7 245.5L494.8 239.5L493.4 236.5L491.9 230.5L491.9 228.5L492.5 227.4L494.3 225.5L496.5 223.8L498.5 222.8L500.5 222.3L512.5 220.8L514.5 220.9L526.5 222.3L527.5 222.3L528.5 221.9L529.5 220.4L531.2 211.5L532.4 207.5L533.4 205.5L534.7 204.5L537.5 203.0L539.5 201.7L540.5 200.5L542.2 196.5L542.9 195.5L544.5 194.2L548.7 191.5L550.7 189.5L556.7 181.5L562.9 170.5L564.7 166.5L569.0 154.5L569.6 152.5L569.6 151.5L569.4 150.5L568.5 148.7L565.9 144.5L564.2 142.5L562.5 141.5L555.5 140.0L553.5 139.9L552.5 140.2L551.5 140.8L544.7 147.5L541.5 151.0L540.5 151.7L539.5 152.1L538.5 152.0L536.5 150.8L527.5 143.1L525.5 142.0L522.5 141.4L505.5 140.0L503.5 140.0L501.5 140.6L495.2 143.5L491.4 145.5L490.2 146.5L489.4 147.5L484.3 155.5L482.5 158.8L481.5 161.8L479.3 170.5L478.9 173.5L478.9 183.5L480.0 189.5L479.8 191.5L478.5 195.1L477.5 196.5L476.5 197.4L469.5 201.9L467.5 204.5L462.4 208.5L459.5 212.1L458.2 213.5L456.5 214.5L455.5 214.7L455.5 208.4L457.5 208.4L459.5 207.9L464.5 205.0L466.3 203.5L466.9 202.5L467.3 200.5L467.2 199.5L466.6 198.5L465.5 197.7L464.5 197.3L461.5 197.0L457.5 197.0L455.5 197.2L455.5 183.7L456.5 183.7L458.5 183.3L460.5 182.2L465.5 178.5L467.3 176.5L468.8 173.5L470.5 169.4L471.5 167.8L477.7 160.5L478.9 158.5L484.3 147.5L485.1 144.5L485.7 139.5L485.4 137.5L484.9 136.5L483.5 135.3L481.5 134.5L480.7 133.5L480.3 129.5L479.2 127.5L473.4 120.5L472.2 118.5L471.9 116.5L473.1 108.5L473.2 105.5L473.0 104.5L471.9 101.5L469.6 96.5L469.0 95.5L468.0 94.5L465.5 92.8L459.5 89.9L457.5 89.3L455.5 89.3ZM494.5 99.1L492.5 99.6L490.5 100.8L488.6 102.5L487.8 103.5L486.9 105.5L486.7 106.5L486.6 110.5L487.1 112.5L487.7 113.5L488.5 114.5L490.5 116.3L491.5 117.0L493.5 117.7L494.5 118.0L496.5 118.0L498.5 117.6L500.5 116.8L501.5 116.2L503.3 114.5L504.0 113.5L504.9 111.5L505.3 109.5L505.3 107.5L504.9 105.5L503.9 103.5L503.2 102.5L501.5 100.9L499.5 99.8L497.5 99.1ZM644.7 74.5L644.5 76.5L644.9 79.5L645.7 81.5L646.5 82.5L648.5 84.3L652.5 87.0L654.5 87.7L656.5 88.0L662.5 87.9L664.5 87.4L666.5 86.3L670.1 83.5L671.8 81.5L672.8 78.5L673.1 76.5L672.9 74.5L672.2 73.5L671.5 72.8L670.5 72.4L668.5 72.0L648.5 72.1L646.5 72.6L645.2 73.5ZM622.5 226.0L620.5 226.6L619.1 227.5L618.2 228.5L617.5 229.5L616.5 231.8L616.1 233.5L615.9 235.5L616.5 238.5L617.5 240.5L618.5 241.9L619.5 242.7L620.9 243.5L622.5 243.9L623.5 244.0L625.5 243.5L626.5 243.0L628.5 241.2L629.5 239.6L630.0 238.5L630.5 236.5L630.6 234.5L630.2 232.5L629.5 230.5L628.5 228.8L627.5 227.7L625.5 226.3L624.5 226.0ZM639.5 201.1L638.4 201.5L636.6 202.5L635.5 203.4L634.2 205.5L633.5 207.5L633.6 209.5L634.5 211.7L635.5 213.1L636.5 213.9L637.5 214.6L639.5 215.4L641.5 215.5L642.5 215.3L644.1 214.5L645.5 213.5L646.5 212.5L647.6 210.5L648.0 208.5L648.0 207.5L647.5 205.9L646.8 204.5L644.9 202.5L642.5 201.2L641.5 201.0Z"/>
<path fill="#ff871b" stroke="#ff871b" stroke-width=".4" d="M684.5 17.5L684.5 34.5L676.5 37.2L662.5 40.7L659.5 41.9L652.3 45.5L649.5 46.5L647.5 46.6L636.5 45.8L634.5 46.1L629.5 47.9L627.5 48.9L625.8 50.5L614.5 64.8L613.0 66.5L611.8 67.5L609.4 68.5L595.5 72.5L593.5 73.0L590.5 73.2L574.5 73.2L568.5 73.0L567.5 73.3L566.5 74.1L564.5 77.9L563.0 79.5L558.5 81.9L556.5 82.5L554.5 82.9L546.5 83.6L542.5 83.8L538.5 84.1L532.5 84.3L528.5 84.7L507.5 84.8L489.5 87.5L487.5 87.6L477.5 86.9L475.5 86.5L473.5 85.5L469.6 82.5L467.4 80.5L465.3 77.5L464.5 75.9L464.1 74.5L463.8 71.5L464.1 67.5L465.5 63.1L466.3 61.5L467.0 60.5L469.5 58.3L472.5 56.5L481.5 53.8L483.5 53.4L488.5 52.9L493.5 52.8L500.5 52.1L512.5 49.9L530.5 47.7L543.5 45.1L546.5 44.2L556.4 39.5L563.5 36.9L565.5 35.8L568.7 33.5L571.5 32.3L574.5 31.4L592.5 28.9L600.5 28.3L605.5 28.2L612.5 27.7L622.5 25.8L626.5 24.8L629.5 23.6L633.5 21.2L634.3 20.5L635.1 19.5L635.8 17.5ZM481.5 60.6L479.5 61.1L477.5 62.1L475.5 63.7L474.0 65.5L473.0 67.5L472.5 69.5L472.4 71.5L472.7 73.5L473.5 75.5L474.5 77.1L475.8 78.5L477.5 79.8L479.5 80.8L481.5 81.3L484.5 81.4L486.5 81.1L488.5 80.3L490.5 79.1L491.5 78.2L492.8 76.5L493.8 74.5L494.3 72.5L494.4 70.5L494.1 68.5L493.9 67.5L492.9 65.5L491.5 63.9L489.5 62.2L487.5 61.2L485.5 60.6L483.5 60.4ZM516.1 63.5L515.8 64.5L515.9 66.5L516.9 68.5L517.7 69.5L519.5 70.7L522.5 71.7L525.5 71.7L527.5 71.2L529.5 70.2L530.5 69.5L531.5 68.3L532.3 66.5L532.5 65.5L532.2 63.5L531.7 62.5L530.5 61.0L528.5 59.7L525.5 58.8L522.5 58.8L519.5 59.8L518.5 60.4L517.2 61.5ZM574.8 41.5L573.5 40.7L572.5 40.4L570.5 40.2L568.5 40.5L565.5 41.5L562.5 42.9L559.5 45.0L557.5 46.7L554.5 49.8L552.3 52.5L550.2 55.5L548.8 58.5L547.4 62.5L547.1 65.5L547.5 67.5L548.3 69.5L549.5 70.8L551.5 72.0L553.5 72.3L556.5 71.9L559.5 70.8L562.5 69.2L565.1 67.5L571.2 61.5L572.6 59.5L575.0 55.5L576.3 52.5L577.2 49.5L577.3 46.5L576.9 44.5L575.8 42.5ZM606.5 37.5L604.5 37.5L602.5 38.1L600.5 39.1L599.5 40.0L598.2 41.5L596.9 43.5L595.9 45.5L595.4 47.5L595.1 49.5L595.1 52.5L595.4 54.5L596.2 56.5L597.5 58.4L599.5 60.1L601.5 60.9L603.5 61.1L605.5 60.7L607.5 59.7L608.5 58.9L609.9 57.5L611.3 55.5L612.3 53.5L613.2 50.5L613.4 48.5L613.3 45.5L612.9 43.5L612.5 42.5L611.3 40.5L609.5 38.8L608.5 38.2ZM564.5 142.7L565.9 144.5L568.9 149.5L569.5 151.0L569.6 152.5L566.5 161.8L563.9 168.5L557.3 180.5L550.7 189.5L548.7 191.5L544.5 194.2L542.9 195.5L542.2 196.5L540.5 200.5L539.5 201.7L537.5 203.0L534.5 204.6L533.4 205.5L532.8 206.5L531.2 211.5L529.5 220.5L528.9 221.5L528.5 221.9L527.5 222.3L526.5 222.3L513.5 220.8L507.5 221.4L500.5 222.3L498.5 222.8L496.5 223.8L493.5 226.3L492.4 227.5L491.9 228.5L491.8 229.5L492.1 231.5L493.1 235.5L494.3 238.5L498.7 245.5L499.5 247.5L499.6 248.5L455.5 248.5L455.5 214.7L456.5 214.5L458.2 213.5L459.5 212.1L462.4 208.5L467.5 204.5L469.5 201.9L476.5 197.4L477.5 196.5L478.8 194.5L479.5 192.5L480.0 190.5L479.9 188.5L479.0 184.5L478.8 181.5L478.9 173.5L479.5 169.7L481.5 161.8L482.6 158.5L487.5 150.3L489.4 147.5L490.5 146.2L491.5 145.4L495.2 143.5L501.5 140.6L503.5 140.0L505.5 140.0L522.5 141.4L525.5 142.0L527.5 143.1L536.5 150.8L538.5 152.0L539.5 152.1L540.5 151.7L541.5 151.0L544.5 147.7L550.5 141.7L552.5 140.2L553.5 139.9L554.5 139.8L558.3 140.5L562.5 141.5ZM490.5 153.6L489.5 154.7L488.6 156.5L488.1 158.5L487.8 162.5L488.1 165.5L489.3 170.5L490.1 172.5L491.4 174.5L493.9 177.5L495.5 178.8L496.5 179.2L498.5 179.7L502.5 180.1L504.1 180.5L505.5 181.0L507.5 182.3L512.5 186.3L519.7 191.5L520.6 192.5L525.5 199.5L527.5 201.1L529.5 202.2L531.5 202.9L533.5 202.8L536.5 201.5L538.0 200.5L538.9 199.5L540.1 196.5L541.3 194.5L542.5 193.4L546.7 190.5L547.7 189.5L548.4 188.5L550.0 184.5L550.8 181.5L550.9 176.5L550.8 171.5L550.0 169.5L547.5 166.3L545.5 164.7L544.5 164.3L542.5 163.8L534.5 163.2L524.5 164.6L522.5 164.4L521.5 164.0L519.6 162.5L517.7 160.5L516.6 158.5L514.8 154.5L513.5 152.9L512.5 152.3L509.5 151.0L505.5 149.8L501.5 149.7L495.5 150.3L493.5 151.1ZM501.5 194.4L500.5 193.3L499.5 192.6L498.5 192.3L492.5 191.7L490.5 191.6L488.5 192.0L486.5 193.2L484.2 195.5L482.6 197.5L481.7 199.5L480.5 203.9L479.5 205.5L478.1 206.5L475.9 207.5L466.5 211.0L464.5 212.2L463.5 213.3L461.5 216.5L460.8 218.5L461.1 220.5L462.8 223.5L464.5 225.1L466.5 226.0L469.5 227.2L471.5 227.4L472.5 227.3L474.5 226.6L477.1 225.5L478.6 224.5L479.4 223.5L479.8 222.5L481.5 217.4L482.9 215.5L485.5 213.0L486.5 212.4L488.5 211.7L493.5 210.9L496.5 210.0L500.5 208.6L502.4 207.5L503.2 206.5L503.7 205.5L504.3 202.5L504.5 200.5L504.0 198.5ZM639.5 201.1L641.5 201.0L642.5 201.2L644.9 202.5L646.8 204.5L647.5 205.9L648.0 207.5L648.0 208.5L647.6 210.5L646.5 212.5L645.5 213.5L644.1 214.5L642.5 215.3L641.5 215.5L639.5 215.4L637.5 214.6L636.5 213.9L635.5 213.1L634.5 211.7L633.6 209.5L633.5 207.5L634.2 205.5L635.5 203.4L636.6 202.5L638.4 201.5ZM622.5 226.0L624.5 226.0L625.5 226.3L627.5 227.7L628.5 228.8L629.5 230.5L630.2 232.5L630.6 234.5L630.5 236.5L630.0 238.5L629.5 239.6L628.5 241.2L626.5 243.0L625.5 243.5L623.5 244.0L622.5 243.9L620.9 243.5L619.5 242.7L618.5 241.9L617.5 240.5L616.5 238.5L615.9 235.5L616.1 233.5L616.5 231.8L617.5 229.5L618.2 228.5L619.1 227.5L620.5 226.6Z"/>
<path fill="#ff681d" stroke="#ff681d" stroke-width=".4" d="M606.5 37.5L608.5 38.2L609.5 38.8L611.3 40.5L612.5 42.5L612.9 43.5L613.3 45.5L613.4 48.5L613.2 50.5L612.3 53.5L611.3 55.5L609.9 57.5L608.5 58.9L607.5 59.7L605.5 60.7L603.5 61.1L601.5 60.9L599.5 60.1L597.5 58.4L596.2 56.5L595.4 54.5L595.1 52.5L595.1 49.5L595.4 47.5L595.9 45.5L596.9 43.5L598.2 41.5L599.5 40.0L600.5 39.1L602.5 38.1L604.5 37.5ZM574.8 41.5L575.8 42.5L576.9 44.5L577.3 46.5L577.2 49.5L576.3 52.5L575.0 55.5L572.6 59.5L571.2 61.5L565.1 67.5L562.5 69.2L559.5 70.8L556.5 71.9L553.5 72.3L551.5 72.0L549.5 70.8L548.3 69.5L547.5 67.5L547.1 65.5L547.4 62.5L548.8 58.5L550.2 55.5L552.3 52.5L554.5 49.8L557.5 46.7L559.5 45.0L562.5 42.9L565.5 41.5L568.5 40.5L570.5 40.2L572.5 40.4L573.5 40.7ZM516.1 63.5L517.2 61.5L518.5 60.4L519.5 59.8L522.5 58.8L525.5 58.8L528.5 59.7L530.5 61.0L531.7 62.5L532.2 63.5L532.5 65.5L532.3 66.5L531.5 68.3L530.5 69.5L529.5 70.2L527.5 71.2L525.5 71.7L522.5 71.7L519.5 70.7L517.7 69.5L516.9 68.5L515.9 66.5L515.8 64.5ZM479.5 61.1L481.5 60.6L483.5 60.4L485.5 60.6L487.5 61.2L489.5 62.2L491.5 63.9L492.9 65.5L493.9 67.5L494.3 69.5L494.4 71.5L494.1 73.5L493.4 75.5L492.5 77.0L491.2 78.5L489.5 79.8L487.5 80.8L485.5 81.3L482.5 81.4L480.5 81.1L478.5 80.4L477.0 79.5L475.5 78.2L474.1 76.5L473.0 74.5L472.5 72.5L472.4 70.5L472.7 68.5L473.5 66.5L474.8 64.5L476.5 62.8L477.5 62.1ZM490.5 153.6L493.5 151.1L495.5 150.3L501.5 149.7L505.5 149.8L509.5 151.0L512.5 152.3L513.5 152.9L514.8 154.5L516.6 158.5L517.7 160.5L519.6 162.5L521.5 164.0L522.5 164.4L524.5 164.6L534.5 163.2L542.5 163.8L544.5 164.3L545.5 164.7L547.5 166.3L550.0 169.5L550.8 171.5L550.9 176.5L550.8 181.5L550.0 184.5L548.4 188.5L547.7 189.5L546.7 190.5L542.5 193.4L541.3 194.5L540.1 196.5L538.9 199.5L538.0 200.5L536.5 201.5L533.5 202.8L531.5 202.9L529.5 202.2L527.5 201.1L525.5 199.5L520.6 192.5L519.7 191.5L512.5 186.3L507.5 182.3L505.5 181.0L504.1 180.5L502.5 180.1L498.5 179.7L496.5 179.2L495.5 178.8L493.9 177.5L491.4 174.5L490.1 172.5L489.3 170.5L488.1 165.5L487.8 162.5L488.1 158.5L488.6 156.5L489.5 154.7ZM500.8 193.5L502.2 195.5L504.0 198.5L504.5 200.5L504.3 202.5L503.7 205.5L503.2 206.5L502.4 207.5L500.5 208.6L496.5 210.0L493.5 210.9L488.5 211.7L486.5 212.4L485.5 213.0L482.9 215.5L481.5 217.4L479.8 222.5L479.4 223.5L478.6 224.5L477.1 225.5L474.5 226.6L472.5 227.3L471.5 227.4L469.5 227.2L466.5 226.0L464.5 225.1L462.8 223.5L461.1 220.5L460.8 218.5L461.5 216.5L463.5 213.3L464.5 212.2L466.5 211.0L475.9 207.5L478.1 206.5L479.5 205.5L480.5 203.9L481.7 199.5L482.6 197.5L484.2 195.5L486.5 193.2L488.5 192.0L489.5 191.7L491.5 191.6L498.5 192.3L499.5 192.6Z"/>
<path fill="none" stroke="#000" stroke-width=".95" stroke-linejoin="round" d="M463.1 189.5L470.4 193.7L477.2 197.6L480.1 200.5L480.7 203.4L478.2 205.3L475.3 204.3M468.5 205.3L468.9 202.4L473.3 201.8L473.9 204.9L471.4 206.8L468.5 207.2L466.6 210.1L463.7 211.1L460.8 213.0L455.0 214.2M455.0 217.3L462.7 215.9L467.5 213.0L471.4 210.1L474.3 207.2L477.8 205.3M491.7 212.1L494.6 211.1L501.3 218.8L500.9 221.3L497.9 220.7L492.6 215.0L491.7 212.1M504.2 218.8L511.9 225.6M511.0 230.8L515.2 234.3M520.6 226.5L529.3 232.3M537.0 233.3L542.8 242.9M528.4 241.0L533.2 239.7L538.0 242.4L536.1 244.9L530.3 243.9L528.4 241.0"/>
<path d="M577.6 21.3h.01M584.5 21.3h.01M591.5 21.3h.01M598.5 21.3h.01M605.4 21.3h.01M612.4 21.3h.01M619.4 21.3h.01M626.3 21.3h.01M633.3 21.3h.01M640.3 21.3h.01M647.2 21.3h.01M654.2 21.3h.01M661.2 21.3h.01M668.1 21.3h.01M675.1 21.3h.01M682.1 21.3h.01M581.1 24.7h.01M588.0 24.7h.01M595.0 24.7h.01M602.0 24.7h.01M608.9 24.7h.01M615.9 24.7h.01M622.9 24.7h.01M629.8 24.7h.01M636.8 24.7h.01M643.7 24.7h.01M650.7 24.7h.01M657.7 24.7h.01M664.6 24.7h.01M671.6 24.7h.01M678.6 24.7h.01M577.6 28.2h.01M584.5 28.2h.01M591.5 28.2h.01M598.5 28.2h.01M605.4 28.2h.01M612.4 28.2h.01M619.4 28.2h.01M626.3 28.2h.01M633.3 28.2h.01M640.3 28.2h.01M647.2 28.2h.01M654.2 28.2h.01M661.2 28.2h.01M668.1 28.2h.01M675.1 28.2h.01M682.1 28.2h.01M574.1 31.7h.01M581.1 31.7h.01M588.0 31.7h.01M595.0 31.7h.01M602.0 31.7h.01M608.9 31.7h.01M615.9 31.7h.01M622.9 31.7h.01M629.8 31.7h.01M636.8 31.7h.01M643.7 31.7h.01M650.7 31.7h.01M657.7 31.7h.01M664.6 31.7h.01M671.6 31.7h.01M678.6 31.7h.01M549.7 35.1h.01M556.7 35.1h.01M563.6 35.1h.01M570.6 35.1h.01M577.6 35.1h.01M584.5 35.1h.01M591.5 35.1h.01M598.5 35.1h.01M605.4 35.1h.01M612.4 35.1h.01M619.4 35.1h.01M626.3 35.1h.01M633.3 35.1h.01M640.3 35.1h.01M647.2 35.1h.01M654.2 35.1h.01M661.2 35.1h.01M668.1 35.1h.01M675.1 35.1h.01M682.1 35.1h.01M511.4 38.6h.01M518.4 38.6h.01M525.3 38.6h.01M532.3 38.6h.01M539.3 38.6h.01M546.2 38.6h.01M553.2 38.6h.01M560.2 38.6h.01M567.1 38.6h.01M574.1 38.6h.01M581.1 38.6h.01M588.0 38.6h.01M595.0 38.6h.01M602.0 38.6h.01M608.9 38.6h.01M615.9 38.6h.01M622.9 38.6h.01M629.8 38.6h.01M636.8 38.6h.01M643.7 38.6h.01M650.7 38.6h.01M657.7 38.6h.01M664.6 38.6h.01M671.6 38.6h.01M678.6 38.6h.01M501.0 42.1h.01M507.9 42.1h.01M514.9 42.1h.01M521.9 42.1h.01M528.8 42.1h.01M535.8 42.1h.01M542.8 42.1h.01M549.7 42.1h.01M556.7 42.1h.01M563.6 42.1h.01M570.6 42.1h.01M577.6 42.1h.01M584.5 42.1h.01M591.5 42.1h.01M598.5 42.1h.01M605.4 42.1h.01M612.4 42.1h.01M619.4 42.1h.01M626.3 42.1h.01M633.3 42.1h.01M640.3 42.1h.01M647.2 42.1h.01M654.2 42.1h.01M661.2 42.1h.01M668.1 42.1h.01M497.5 45.5h.01M504.4 45.5h.01M511.4 45.5h.01M518.4 45.5h.01M525.3 45.5h.01M532.3 45.5h.01M539.3 45.5h.01M546.2 45.5h.01M553.2 45.5h.01M560.2 45.5h.01M567.1 45.5h.01M574.1 45.5h.01M581.1 45.5h.01M588.0 45.5h.01M595.0 45.5h.01M602.0 45.5h.01M608.9 45.5h.01M615.9 45.5h.01M622.9 45.5h.01M629.8 45.5h.01M636.8 45.5h.01M643.7 45.5h.01M650.7 45.5h.01M657.7 45.5h.01M671.6 45.5h.01M678.6 45.5h.01M459.2 49.0h.01M466.1 49.0h.01M473.1 49.0h.01M480.1 49.0h.01M487.0 49.0h.01M494.0 49.0h.01M501.0 49.0h.01M507.9 49.0h.01M514.9 49.0h.01M521.9 49.0h.01M528.8 49.0h.01M535.8 49.0h.01M542.8 49.0h.01M549.7 49.0h.01M556.7 49.0h.01M563.6 49.0h.01M570.6 49.0h.01M577.6 49.0h.01M584.5 49.0h.01M591.5 49.0h.01M598.5 49.0h.01M605.4 49.0h.01M612.4 49.0h.01M619.4 49.0h.01M626.3 49.0h.01M633.3 49.0h.01M640.3 49.0h.01M647.2 49.0h.01M654.2 49.0h.01M675.1 49.0h.01M682.1 49.0h.01M462.7 52.5h.01M469.6 52.5h.01M476.6 52.5h.01M483.6 52.5h.01M490.5 52.5h.01M497.5 52.5h.01M504.4 52.5h.01M511.4 52.5h.01M518.4 52.5h.01M525.3 52.5h.01M532.3 52.5h.01M539.3 52.5h.01M546.2 52.5h.01M553.2 52.5h.01M560.2 52.5h.01M567.1 52.5h.01M574.1 52.5h.01M581.1 52.5h.01M588.0 52.5h.01M595.0 52.5h.01M602.0 52.5h.01M608.9 52.5h.01M615.9 52.5h.01M622.9 52.5h.01M671.6 52.5h.01M678.6 52.5h.01M459.2 55.9h.01M466.1 55.9h.01M473.1 55.9h.01M480.1 55.9h.01M487.0 55.9h.01M494.0 55.9h.01M501.0 55.9h.01M507.9 55.9h.01M514.9 55.9h.01M521.9 55.9h.01M528.8 55.9h.01M535.8 55.9h.01M542.8 55.9h.01M549.7 55.9h.01M556.7 55.9h.01M563.6 55.9h.01M570.6 55.9h.01M577.6 55.9h.01M584.5 55.9h.01M591.5 55.9h.01M598.5 55.9h.01M605.4 55.9h.01M612.4 55.9h.01M619.4 55.9h.01M626.3 55.9h.01M675.1 55.9h.01M682.1 55.9h.01M462.7 59.4h.01M469.6 59.4h.01M476.6 59.4h.01M483.6 59.4h.01M490.5 59.4h.01M497.5 59.4h.01M504.4 59.4h.01M511.4 59.4h.01M518.4 59.4h.01M525.3 59.4h.01M532.3 59.4h.01M539.3 59.4h.01M546.2 59.4h.01M553.2 59.4h.01M560.2 59.4h.01M567.1 59.4h.01M574.1 59.4h.01M581.1 59.4h.01M588.0 59.4h.01M595.0 59.4h.01M602.0 59.4h.01M608.9 59.4h.01M615.9 59.4h.01M622.9 59.4h.01M671.6 59.4h.01M678.6 59.4h.01M459.2 62.9h.01M466.1 62.9h.01M473.1 62.9h.01M480.1 62.9h.01M487.0 62.9h.01M494.0 62.9h.01M501.0 62.9h.01M507.9 62.9h.01M514.9 62.9h.01M521.9 62.9h.01M528.8 62.9h.01M535.8 62.9h.01M542.8 62.9h.01M549.7 62.9h.01M556.7 62.9h.01M563.6 62.9h.01M570.6 62.9h.01M577.6 62.9h.01M584.5 62.9h.01M591.5 62.9h.01M598.5 62.9h.01M605.4 62.9h.01M612.4 62.9h.01M619.4 62.9h.01M675.1 62.9h.01M682.1 62.9h.01M462.7 66.3h.01M469.6 66.3h.01M476.6 66.3h.01M483.6 66.3h.01M490.5 66.3h.01M497.5 66.3h.01M504.4 66.3h.01M511.4 66.3h.01M518.4 66.3h.01M525.3 66.3h.01M532.3 66.3h.01M539.3 66.3h.01M546.2 66.3h.01M553.2 66.3h.01M560.2 66.3h.01M567.1 66.3h.01M574.1 66.3h.01M581.1 66.3h.01M588.0 66.3h.01M595.0 66.3h.01M602.0 66.3h.01M608.9 66.3h.01M615.9 66.3h.01M466.1 69.8h.01M473.1 69.8h.01M480.1 69.8h.01M487.0 69.8h.01M494.0 69.8h.01M501.0 69.8h.01M507.9 69.8h.01M514.9 69.8h.01M521.9 69.8h.01M528.8 69.8h.01M535.8 69.8h.01M542.8 69.8h.01M549.7 69.8h.01M556.7 69.8h.01M563.6 69.8h.01M570.6 69.8h.01M577.6 69.8h.01M584.5 69.8h.01M591.5 69.8h.01M598.5 69.8h.01M605.4 69.8h.01M612.4 69.8h.01M469.6 73.3h.01M476.6 73.3h.01M483.6 73.3h.01M490.5 73.3h.01M497.5 73.3h.01M504.4 73.3h.01M511.4 73.3h.01M518.4 73.3h.01M525.3 73.3h.01M532.3 73.3h.01M539.3 73.3h.01M546.2 73.3h.01M553.2 73.3h.01M560.2 73.3h.01M567.1 73.3h.01M574.1 73.3h.01M581.1 73.3h.01M588.0 73.3h.01M595.0 73.3h.01M602.0 73.3h.01M466.1 76.7h.01M473.1 76.7h.01M480.1 76.7h.01M487.0 76.7h.01M494.0 76.7h.01M501.0 76.7h.01M507.9 76.7h.01M514.9 76.7h.01M521.9 76.7h.01M528.8 76.7h.01M535.8 76.7h.01M542.8 76.7h.01M549.7 76.7h.01M556.7 76.7h.01M563.6 76.7h.01M570.6 76.7h.01M577.6 76.7h.01M584.5 76.7h.01M591.5 76.7h.01M469.6 80.2h.01M476.6 80.2h.01M483.6 80.2h.01M490.5 80.2h.01M497.5 80.2h.01M504.4 80.2h.01M511.4 80.2h.01M518.4 80.2h.01M525.3 80.2h.01M532.3 80.2h.01M539.3 80.2h.01M546.2 80.2h.01M553.2 80.2h.01M560.2 80.2h.01M473.1 83.7h.01M480.1 83.7h.01M487.0 83.7h.01M494.0 83.7h.01M501.0 83.7h.01M507.9 83.7h.01M514.9 83.7h.01M521.9 83.7h.01M528.8 83.7h.01M535.8 83.7h.01M542.8 83.7h.01M549.7 83.7h.01M556.7 83.7h.01M476.6 87.1h.01M483.6 87.1h.01M490.5 87.1h.01M497.5 87.1h.01M504.4 87.1h.01M511.4 87.1h.01M518.4 87.1h.01M525.3 87.1h.01M532.3 87.1h.01M539.3 87.1h.01M546.2 87.1h.01M553.2 87.1h.01M678.6 87.1h.01M480.1 90.6h.01M487.0 90.6h.01M494.0 90.6h.01M501.0 90.6h.01M507.9 90.6h.01M514.9 90.6h.01M521.9 90.6h.01M528.8 90.6h.01M661.2 90.6h.01M668.1 90.6h.01M675.1 90.6h.01M682.1 90.6h.01M483.6 94.1h.01M490.5 94.1h.01M497.5 94.1h.01M504.4 94.1h.01M511.4 94.1h.01M518.4 94.1h.01M525.3 94.1h.01M671.6 94.1h.01M678.6 94.1h.01M480.1 97.5h.01M487.0 97.5h.01M494.0 97.5h.01M501.0 97.5h.01M507.9 97.5h.01M514.9 97.5h.01M521.9 97.5h.01M483.6 101.0h.01M504.4 101.0h.01M511.4 101.0h.01M518.4 101.0h.01M480.1 104.5h.01M487.0 104.5h.01M507.9 104.5h.01M514.9 104.5h.01M521.9 104.5h.01M483.6 107.9h.01M504.4 107.9h.01M511.4 107.9h.01M518.4 107.9h.01M487.0 111.4h.01M507.9 111.4h.01M514.9 111.4h.01M483.6 114.9h.01M504.4 114.9h.01M511.4 114.9h.01M518.4 114.9h.01M487.0 118.3h.01M494.0 118.3h.01M501.0 118.3h.01M507.9 118.3h.01M514.9 118.3h.01M490.5 121.8h.01M497.5 121.8h.01M504.4 121.8h.01M511.4 121.8h.01M539.3 121.8h.01M546.2 121.8h.01M553.2 121.8h.01M560.2 121.8h.01M567.1 121.8h.01M581.1 121.8h.01M501.0 125.2h.01M507.9 125.2h.01M535.8 125.2h.01M542.8 125.2h.01M549.7 125.2h.01M556.7 125.2h.01M563.6 125.2h.01M570.6 125.2h.01M577.6 125.2h.01M584.5 125.2h.01M504.4 128.7h.01M546.2 128.7h.01M553.2 128.7h.01M560.2 128.7h.01M567.1 128.7h.01M574.1 128.7h.01M581.1 128.7h.01M588.0 128.7h.01M501.0 132.2h.01M507.9 132.2h.01M542.8 132.2h.01M549.7 132.2h.01M556.7 132.2h.01M563.6 132.2h.01M570.6 132.2h.01M577.6 132.2h.01M584.5 132.2h.01M497.5 135.6h.01M504.4 135.6h.01M511.4 135.6h.01M539.3 135.6h.01M546.2 135.6h.01M553.2 135.6h.01M560.2 135.6h.01M567.1 135.6h.01M574.1 135.6h.01M581.1 135.6h.01M494.0 139.1h.01M501.0 139.1h.01M507.9 139.1h.01M514.9 139.1h.01M542.8 139.1h.01M549.7 139.1h.01M556.7 139.1h.01M563.6 139.1h.01M570.6 139.1h.01M577.6 139.1h.01M584.5 139.1h.01M490.5 142.6h.01M497.5 142.6h.01M504.4 142.6h.01M511.4 142.6h.01M518.4 142.6h.01M539.3 142.6h.01M546.2 142.6h.01M553.2 142.6h.01M560.2 142.6h.01M567.1 142.6h.01M574.1 142.6h.01M581.1 142.6h.01M487.0 146.0h.01M494.0 146.0h.01M501.0 146.0h.01M507.9 146.0h.01M514.9 146.0h.01M521.9 146.0h.01M528.8 146.0h.01M535.8 146.0h.01M542.8 146.0h.01M549.7 146.0h.01M556.7 146.0h.01M563.6 146.0h.01M570.6 146.0h.01M577.6 146.0h.01M490.5 149.5h.01M497.5 149.5h.01M504.4 149.5h.01M511.4 149.5h.01M518.4 149.5h.01M525.3 149.5h.01M532.3 149.5h.01M539.3 149.5h.01M546.2 149.5h.01M553.2 149.5h.01M560.2 149.5h.01M567.1 149.5h.01M487.0 153.0h.01M494.0 153.0h.01M501.0 153.0h.01M507.9 153.0h.01M514.9 153.0h.01M521.9 153.0h.01M528.8 153.0h.01M535.8 153.0h.01M542.8 153.0h.01M549.7 153.0h.01M556.7 153.0h.01M563.6 153.0h.01M483.6 156.4h.01M490.5 156.4h.01M497.5 156.4h.01M504.4 156.4h.01M511.4 156.4h.01M518.4 156.4h.01M525.3 156.4h.01M532.3 156.4h.01M539.3 156.4h.01M546.2 156.4h.01M553.2 156.4h.01M560.2 156.4h.01M567.1 156.4h.01M487.0 159.9h.01M494.0 159.9h.01M501.0 159.9h.01M507.9 159.9h.01M514.9 159.9h.01M521.9 159.9h.01M528.8 159.9h.01M535.8 159.9h.01M542.8 159.9h.01M549.7 159.9h.01M556.7 159.9h.01M563.6 159.9h.01M483.6 163.4h.01M490.5 163.4h.01M497.5 163.4h.01M504.4 163.4h.01M511.4 163.4h.01M518.4 163.4h.01M525.3 163.4h.01M532.3 163.4h.01M539.3 163.4h.01M546.2 163.4h.01M553.2 163.4h.01M560.2 163.4h.01M480.1 166.8h.01M487.0 166.8h.01M494.0 166.8h.01M501.0 166.8h.01M507.9 166.8h.01M514.9 166.8h.01M521.9 166.8h.01M528.8 166.8h.01M535.8 166.8h.01M542.8 166.8h.01M549.7 166.8h.01M556.7 166.8h.01M563.6 166.8h.01M483.6 170.3h.01M490.5 170.3h.01M497.5 170.3h.01M504.4 170.3h.01M511.4 170.3h.01M518.4 170.3h.01M525.3 170.3h.01M532.3 170.3h.01M539.3 170.3h.01M546.2 170.3h.01M553.2 170.3h.01M560.2 170.3h.01M480.1 173.8h.01M487.0 173.8h.01M494.0 173.8h.01M501.0 173.8h.01M507.9 173.8h.01M514.9 173.8h.01M521.9 173.8h.01M528.8 173.8h.01M535.8 173.8h.01M542.8 173.8h.01M549.7 173.8h.01M556.7 173.8h.01M483.6 177.2h.01M490.5 177.2h.01M497.5 177.2h.01M504.4 177.2h.01M511.4 177.2h.01M518.4 177.2h.01M525.3 177.2h.01M532.3 177.2h.01M539.3 177.2h.01M546.2 177.2h.01M553.2 177.2h.01M480.1 180.7h.01M487.0 180.7h.01M494.0 180.7h.01M501.0 180.7h.01M507.9 180.7h.01M514.9 180.7h.01M521.9 180.7h.01M528.8 180.7h.01M535.8 180.7h.01M542.8 180.7h.01M549.7 180.7h.01M556.7 180.7h.01M476.6 184.2h.01M483.6 184.2h.01M490.5 184.2h.01M497.5 184.2h.01M504.4 184.2h.01M511.4 184.2h.01M518.4 184.2h.01M525.3 184.2h.01M532.3 184.2h.01M539.3 184.2h.01M546.2 184.2h.01M553.2 184.2h.01M480.1 187.6h.01M487.0 187.6h.01M494.0 187.6h.01M501.0 187.6h.01M507.9 187.6h.01M514.9 187.6h.01M521.9 187.6h.01M528.8 187.6h.01M535.8 187.6h.01M542.8 187.6h.01M549.7 187.6h.01M476.6 191.1h.01M483.6 191.1h.01M490.5 191.1h.01M497.5 191.1h.01M504.4 191.1h.01M511.4 191.1h.01M518.4 191.1h.01M525.3 191.1h.01M532.3 191.1h.01M539.3 191.1h.01M546.2 191.1h.01M480.1 194.6h.01M487.0 194.6h.01M494.0 194.6h.01M501.0 194.6h.01M507.9 194.6h.01M514.9 194.6h.01M521.9 194.6h.01M528.8 194.6h.01M535.8 194.6h.01M542.8 194.6h.01M612.4 194.6h.01M483.6 198.0h.01M490.5 198.0h.01M497.5 198.0h.01M504.4 198.0h.01M511.4 198.0h.01M518.4 198.0h.01M525.3 198.0h.01M532.3 198.0h.01M539.3 198.0h.01M615.9 198.0h.01M636.8 198.0h.01M643.7 198.0h.01M480.1 201.5h.01M487.0 201.5h.01M494.0 201.5h.01M501.0 201.5h.01M507.9 201.5h.01M514.9 201.5h.01M521.9 201.5h.01M528.8 201.5h.01M535.8 201.5h.01M612.4 201.5h.01M619.4 201.5h.01M633.3 201.5h.01M640.3 201.5h.01M476.6 205.0h.01M483.6 205.0h.01M490.5 205.0h.01M497.5 205.0h.01M504.4 205.0h.01M511.4 205.0h.01M518.4 205.0h.01M525.3 205.0h.01M532.3 205.0h.01M615.9 205.0h.01M622.9 205.0h.01M636.8 205.0h.01M643.7 205.0h.01M650.7 205.0h.01M459.2 208.4h.01M466.1 208.4h.01M473.1 208.4h.01M480.1 208.4h.01M487.0 208.4h.01M494.0 208.4h.01M501.0 208.4h.01M507.9 208.4h.01M514.9 208.4h.01M521.9 208.4h.01M528.8 208.4h.01M619.4 208.4h.01M626.3 208.4h.01M633.3 208.4h.01M640.3 208.4h.01M647.2 208.4h.01M462.7 211.9h.01M469.6 211.9h.01M476.6 211.9h.01M483.6 211.9h.01M490.5 211.9h.01M497.5 211.9h.01M504.4 211.9h.01M511.4 211.9h.01M518.4 211.9h.01M525.3 211.9h.01M532.3 211.9h.01M615.9 211.9h.01M622.9 211.9h.01M629.8 211.9h.01M636.8 211.9h.01M643.7 211.9h.01M650.7 211.9h.01M459.2 215.4h.01M466.1 215.4h.01M473.1 215.4h.01M480.1 215.4h.01M487.0 215.4h.01M494.0 215.4h.01M501.0 215.4h.01M507.9 215.4h.01M514.9 215.4h.01M521.9 215.4h.01M528.8 215.4h.01M619.4 215.4h.01M626.3 215.4h.01M633.3 215.4h.01M640.3 215.4h.01M647.2 215.4h.01M462.7 218.8h.01M469.6 218.8h.01M476.6 218.8h.01M483.6 218.8h.01M490.5 218.8h.01M497.5 218.8h.01M504.4 218.8h.01M511.4 218.8h.01M518.4 218.8h.01M525.3 218.8h.01M615.9 218.8h.01M622.9 218.8h.01M629.8 218.8h.01M636.8 218.8h.01M643.7 218.8h.01M650.7 218.8h.01M459.2 222.3h.01M466.1 222.3h.01M473.1 222.3h.01M480.1 222.3h.01M487.0 222.3h.01M494.0 222.3h.01M501.0 222.3h.01M507.9 222.3h.01M514.9 222.3h.01M521.9 222.3h.01M528.8 222.3h.01M612.4 222.3h.01M619.4 222.3h.01M626.3 222.3h.01M633.3 222.3h.01M640.3 222.3h.01M462.7 225.8h.01M469.6 225.8h.01M476.6 225.8h.01M483.6 225.8h.01M490.5 225.8h.01M497.5 225.8h.01M504.4 225.8h.01M511.4 225.8h.01M518.4 225.8h.01M525.3 225.8h.01M608.9 225.8h.01M615.9 225.8h.01M622.9 225.8h.01M629.8 225.8h.01M636.8 225.8h.01M459.2 229.2h.01M466.1 229.2h.01M473.1 229.2h.01M480.1 229.2h.01M487.0 229.2h.01M494.0 229.2h.01M501.0 229.2h.01M507.9 229.2h.01M514.9 229.2h.01M521.9 229.2h.01M528.8 229.2h.01M605.4 229.2h.01M612.4 229.2h.01M619.4 229.2h.01M626.3 229.2h.01M633.3 229.2h.01M462.7 232.7h.01M469.6 232.7h.01M476.6 232.7h.01M483.6 232.7h.01M490.5 232.7h.01M497.5 232.7h.01M504.4 232.7h.01M511.4 232.7h.01M518.4 232.7h.01M525.3 232.7h.01M532.3 232.7h.01M588.0 232.7h.01M595.0 232.7h.01M602.0 232.7h.01M608.9 232.7h.01M615.9 232.7h.01M622.9 232.7h.01M629.8 232.7h.01M636.8 232.7h.01M459.2 236.2h.01M466.1 236.2h.01M473.1 236.2h.01M480.1 236.2h.01M487.0 236.2h.01M494.0 236.2h.01M501.0 236.2h.01M507.9 236.2h.01M514.9 236.2h.01M521.9 236.2h.01M528.8 236.2h.01M535.8 236.2h.01M563.6 236.2h.01M570.6 236.2h.01M577.6 236.2h.01M584.5 236.2h.01M591.5 236.2h.01M598.5 236.2h.01M605.4 236.2h.01M612.4 236.2h.01M619.4 236.2h.01M626.3 236.2h.01M633.3 236.2h.01M462.7 239.6h.01M469.6 239.6h.01M476.6 239.6h.01M483.6 239.6h.01M490.5 239.6h.01M497.5 239.6h.01M504.4 239.6h.01M511.4 239.6h.01M518.4 239.6h.01M525.3 239.6h.01M532.3 239.6h.01M553.2 239.6h.01M560.2 239.6h.01M567.1 239.6h.01M574.1 239.6h.01M581.1 239.6h.01M588.0 239.6h.01M595.0 239.6h.01M602.0 239.6h.01M608.9 239.6h.01M615.9 239.6h.01M622.9 239.6h.01M629.8 239.6h.01M636.8 239.6h.01M678.6 239.6h.01M459.2 243.1h.01M466.1 243.1h.01M473.1 243.1h.01M480.1 243.1h.01M487.0 243.1h.01M494.0 243.1h.01M501.0 243.1h.01M507.9 243.1h.01M514.9 243.1h.01M521.9 243.1h.01M528.8 243.1h.01M549.7 243.1h.01M556.7 243.1h.01M563.6 243.1h.01M570.6 243.1h.01M577.6 243.1h.01M584.5 243.1h.01M591.5 243.1h.01M598.5 243.1h.01M605.4 243.1h.01M612.4 243.1h.01M619.4 243.1h.01M626.3 243.1h.01M633.3 243.1h.01M661.2 243.1h.01M668.1 243.1h.01M675.1 243.1h.01M682.1 243.1h.01" fill="none" stroke="#000" stroke-width="1.60" stroke-linecap="round"/>
</g>
<g fill="none" stroke="#000" stroke-width="1.3">
<rect x="38.3" y="19.6" width="362.1" height="226.6"/>
<rect x="457.0" y="19.6" width="226.7" height="226.5"/>
<path d="M137.1 246.2v7.8M268.7 246.2v7.8M400.4 246.2v7.8M38.3 246.2h-7.8M38.3 155.6h-7.8M38.3 64.9h-7.8M457.0 246.1v7.8M532.6 246.1v7.8M608.1 246.1v7.8M683.7 246.1v7.8M457.0 246.2h-7.8M457.0 170.7h-7.8M457.0 95.1h-7.8M457.0 19.6h-7.8"/>
<path stroke-width=".7" d="M38.3 246.2v3.6M71.2 246.2v3.6M104.1 246.2v3.6M170.0 246.2v3.6M202.9 246.2v3.6M235.8 246.2v3.6M301.6 246.2v3.6M334.6 246.2v3.6M367.5 246.2v3.6M38.3 228.1h-3.6M38.3 209.9h-3.6M38.3 191.8h-3.6M38.3 173.7h-3.6M38.3 137.4h-3.6M38.3 119.3h-3.6M38.3 101.2h-3.6M38.3 83.0h-3.6M38.3 46.8h-3.6M38.3 28.7h-3.6M472.1 246.1v3.6M487.2 246.1v3.6M502.3 246.1v3.6M517.5 246.1v3.6M547.7 246.1v3.6M562.8 246.1v3.6M577.9 246.1v3.6M593.0 246.1v3.6M623.2 246.1v3.6M638.4 246.1v3.6M653.5 246.1v3.6M668.6 246.1v3.6M457.0 231.1h-3.6M457.0 216.0h-3.6M457.0 200.9h-3.6M457.0 185.8h-3.6M457.0 155.6h-3.6M457.0 140.5h-3.6M457.0 125.3h-3.6M457.0 110.2h-3.6M457.0 80.0h-3.6M457.0 64.9h-3.6M457.0 49.8h-3.6M457.0 34.7h-3.6"/>
</g>
<rect x="161.60" y="284.4" width="17.05" height="19.9" fill="#004e9c"/>
<rect x="178.35" y="284.4" width="17.05" height="19.9" fill="#0058a8"/>
<rect x="195.09" y="284.4" width="17.05" height="19.9" fill="#0065b2"/>
<rect x="211.84" y="284.4" width="17.05" height="19.9" fill="#0088c8"/>
<rect x="228.58" y="284.4" width="17.05" height="19.9" fill="#00a9dd"/>
<rect x="245.33" y="284.4" width="17.05" height="19.9" fill="#41bfea"/>
<rect x="262.07" y="284.4" width="17.05" height="19.9" fill="#41bfea"/>
<rect x="278.82" y="284.4" width="17.05" height="19.9" fill="#5fcbee"/>
<rect x="295.56" y="284.4" width="17.05" height="19.9" fill="#75d6f5"/>
<rect x="312.31" y="284.4" width="17.05" height="19.9" fill="#99e0f8"/>
<rect x="329.05" y="284.4" width="17.05" height="19.9" fill="#bdebfa"/>
<rect x="345.80" y="284.4" width="17.05" height="19.9" fill="#fff6d4"/>
<rect x="362.55" y="284.4" width="17.05" height="19.9" fill="#ffeda5"/>
<rect x="379.29" y="284.4" width="17.05" height="19.9" fill="#ffd970"/>
<rect x="396.04" y="284.4" width="17.05" height="19.9" fill="#ffbe45"/>
<rect x="412.78" y="284.4" width="17.05" height="19.9" fill="#ffa41f"/>
<rect x="429.53" y="284.4" width="17.05" height="19.9" fill="#ffa51f"/>
<rect x="446.27" y="284.4" width="17.05" height="19.9" fill="#ff871b"/>
<rect x="463.02" y="284.4" width="17.05" height="19.9" fill="#ff681d"/>
<rect x="479.76" y="284.4" width="17.05" height="19.9" fill="#ff4422"/>
<rect x="496.51" y="284.4" width="17.05" height="19.9" fill="#f92124"/>
<rect x="513.25" y="284.4" width="16.75" height="19.9" fill="#dc141e"/>
<rect x="161.6" y="284.4" width="368.4" height="19.9" fill="none" stroke="#222" stroke-width=".9"/>
<text x="30.6" y="252.3" text-anchor="end" font-size="17.4">20N</text>
<text x="30.6" y="161.7" text-anchor="end" font-size="17.4">30N</text>
<text x="30.6" y="71.0" text-anchor="end" font-size="17.4">40N</text>
<text x="137.1" y="272.4" text-anchor="middle" font-size="17.4">60W</text>
<text x="268.7" y="272.4" text-anchor="middle" font-size="17.4">40W</text>
<text x="401.5" y="272.4" text-anchor="end" font-size="17.4">20W</text>
<text x="447.4" y="25.7" text-anchor="end" font-size="17.4">20N</text>
<text x="447.4" y="101.2" text-anchor="end" font-size="17.4">10N</text>
<text x="447.4" y="176.8" text-anchor="end" font-size="17.4">0</text>
<text x="447.4" y="252.3" text-anchor="end" font-size="17.4">10S</text>
<text x="470.8" y="272.4" text-anchor="middle" font-size="17.4">150E</text>
<text x="532.6" y="272.4" text-anchor="middle" font-size="17.4">160E</text>
<text x="608.1" y="272.4" text-anchor="middle" font-size="17.4">170E</text>
<text x="659.6" y="272.4" text-anchor="start" font-size="17.4">180</text>
<text x="41.0" y="12.6" text-anchor="start" font-size="17.4">(a) Cor (SST, HD)</text>
<text x="331.5" y="13.5" text-anchor="start" font-size="17.0">AMO<tspan font-size="10.5" dy="2.5">CORE</tspan></text>
<text x="457.5" y="12.6" text-anchor="start" font-size="17.4">(b) Cor (SST, HD)</text>
<text x="684.0" y="13.4" text-anchor="end" font-size="17.4">WPSST</text>
<text x="179.7" y="322.4" text-anchor="middle" font-size="17.4">-1</text>
<text x="245.9" y="322.4" text-anchor="middle" font-size="17.4">-0.6</text>
<text x="312.9" y="322.4" text-anchor="middle" font-size="17.4">-0.2</text>
<text x="379.9" y="322.4" text-anchor="middle" font-size="17.4">0.2</text>
<text x="446.9" y="322.4" text-anchor="middle" font-size="17.4">0.6</text>
<text x="513.5" y="322.4" text-anchor="middle" font-size="17.4">1</text>
</svg>
</body></html>
